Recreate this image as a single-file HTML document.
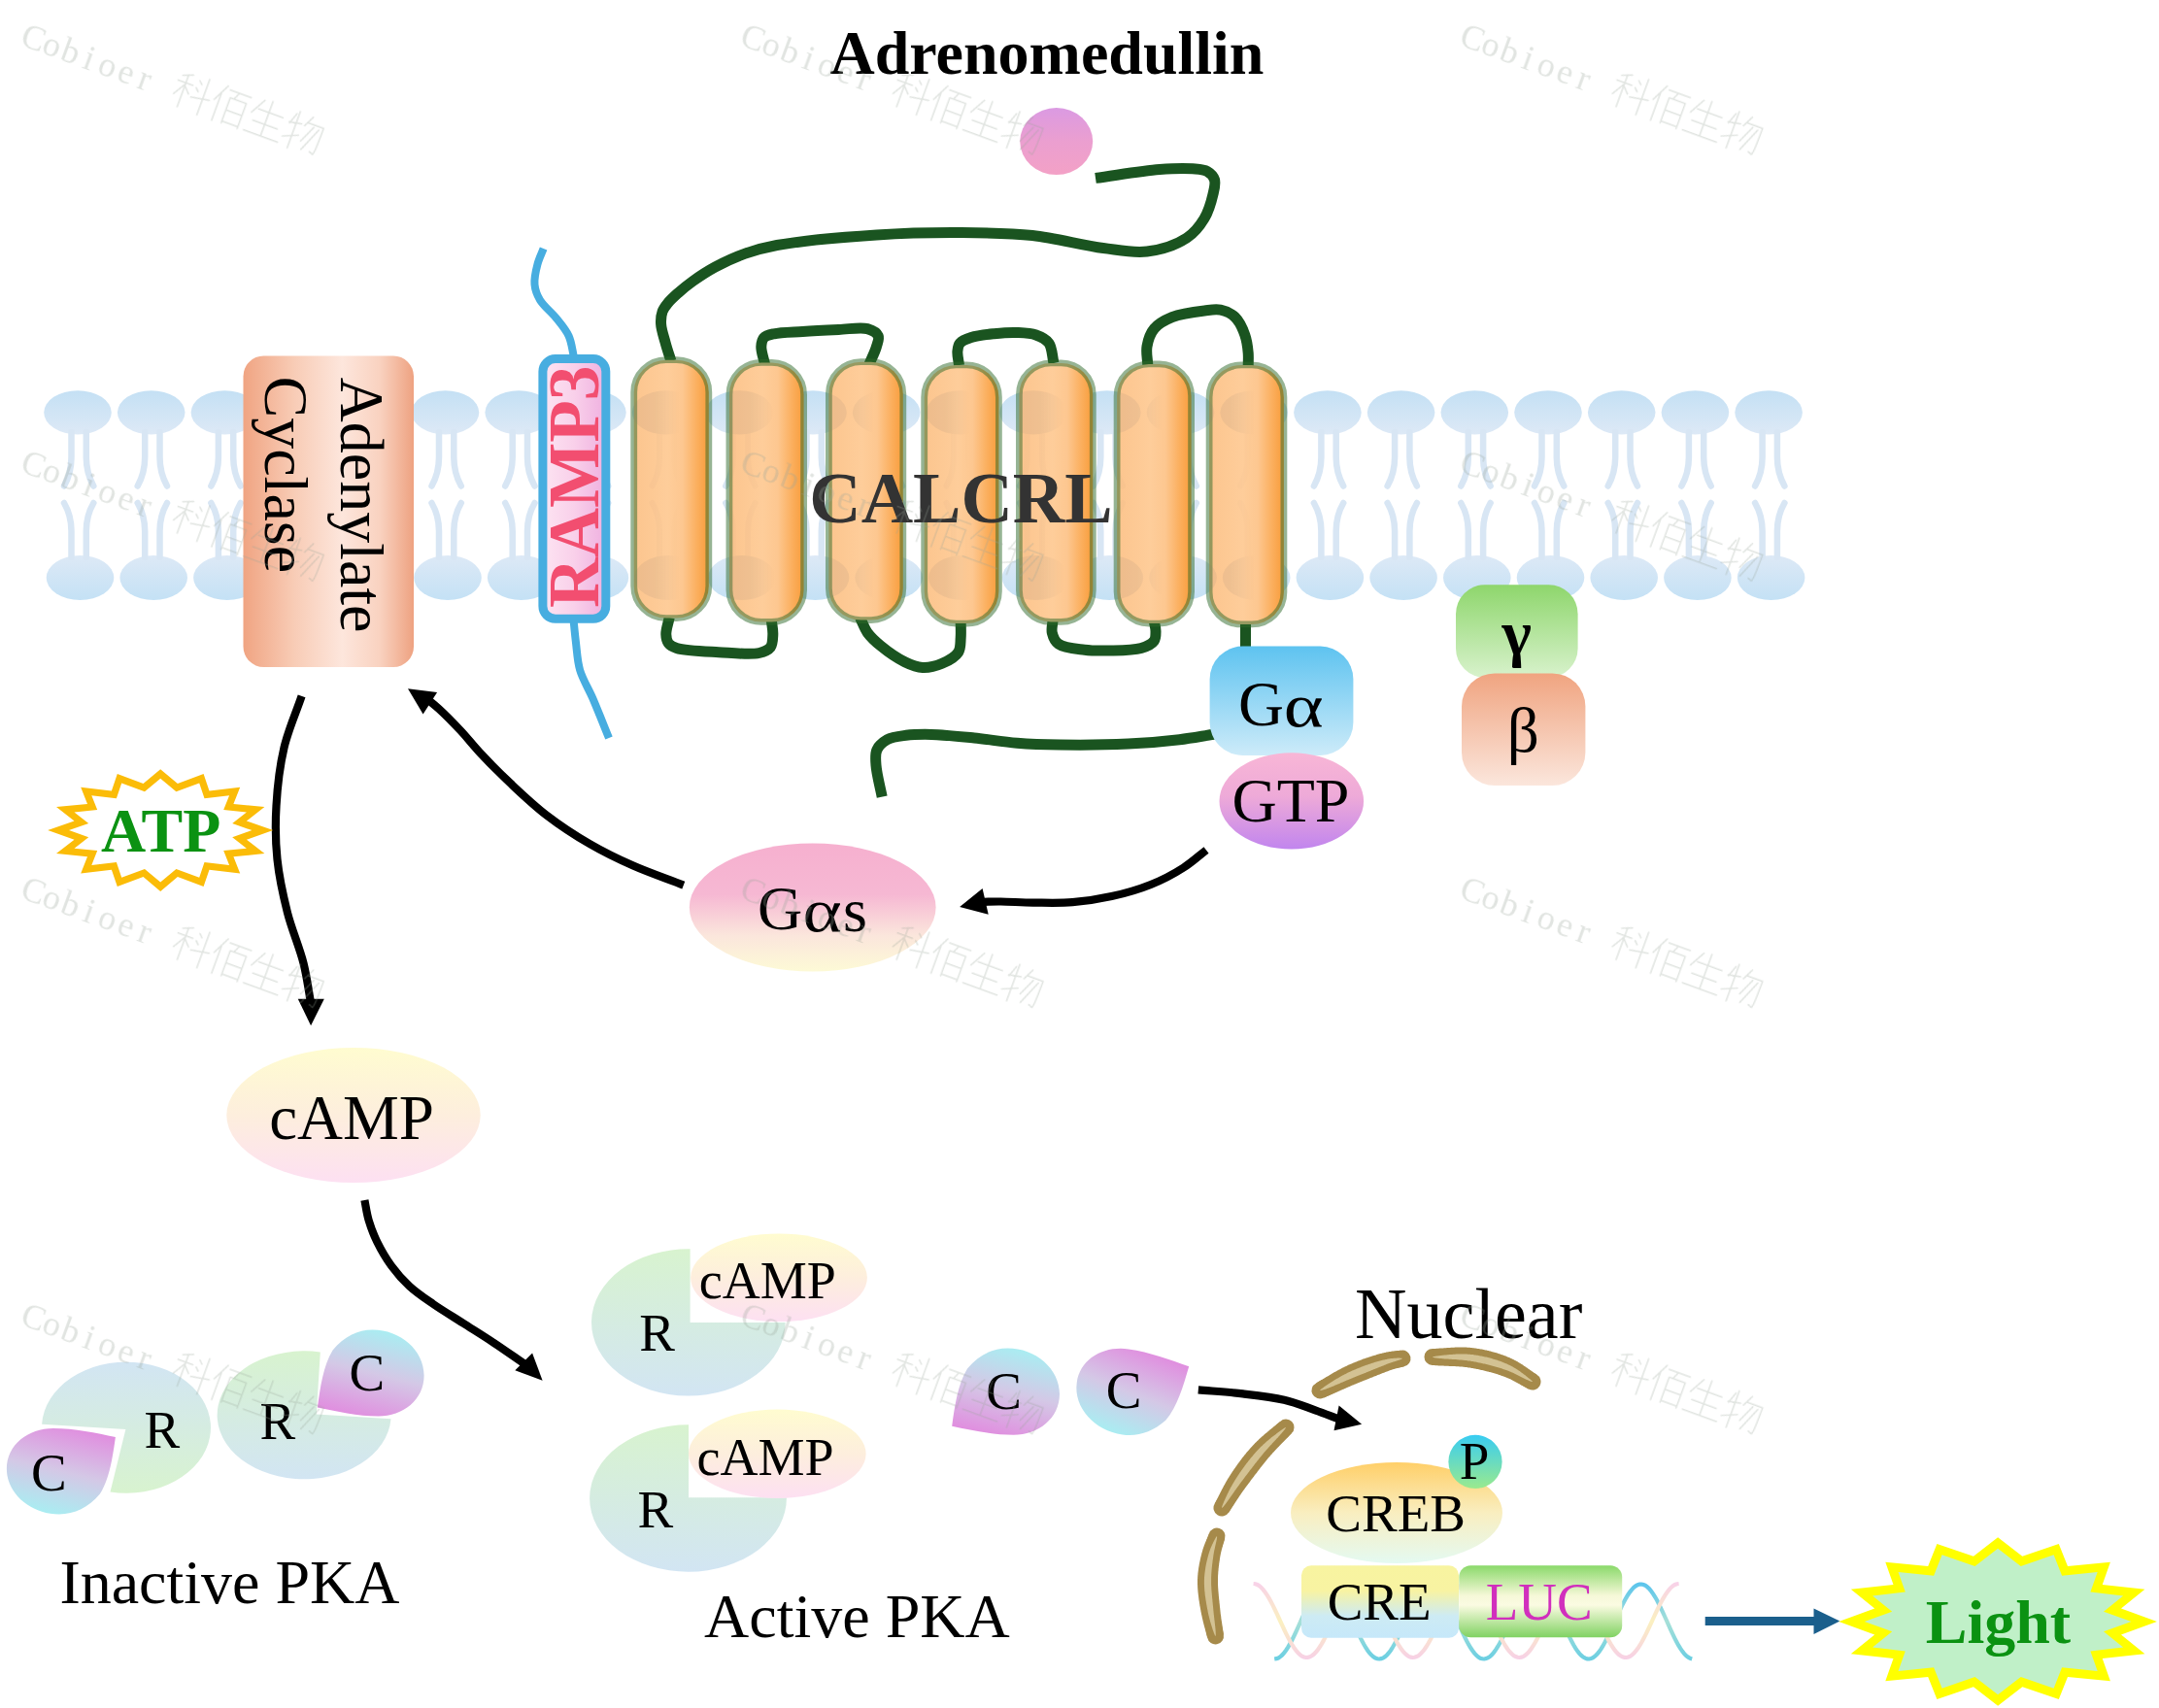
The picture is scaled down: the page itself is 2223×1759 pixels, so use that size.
<!DOCTYPE html><html><head><meta charset="utf-8"><style>html,body{margin:0;padding:0;background:#fff;}svg{display:block;font-family:"Liberation Serif",serif;}</style></head><body><svg xmlns="http://www.w3.org/2000/svg" width="2223" height="1759" viewBox="0 0 2223 1759"><defs><linearGradient id="gLipT" x1="0" y1="0" x2="0" y2="1"><stop offset="0" stop-color="#c4e0f4"/><stop offset="1" stop-color="#dde9f6"/></linearGradient><linearGradient id="gLipB" x1="0" y1="0" x2="0" y2="1"><stop offset="0" stop-color="#dde9f6"/><stop offset="1" stop-color="#c4e1f5"/></linearGradient><linearGradient id="gAC" x1="0" y1="0" x2="1" y2="0"><stop offset="0" stop-color="#f0a482"/><stop offset="0.3" stop-color="#f8ccb6"/><stop offset="0.58" stop-color="#fde6dc"/><stop offset="0.8" stop-color="#f9d2c0"/><stop offset="1" stop-color="#eea281"/></linearGradient><linearGradient id="gRamp" x1="0" y1="0" x2="1" y2="0"><stop offset="0" stop-color="#fde4f2"/><stop offset="0.5" stop-color="#f9d0ea"/><stop offset="1" stop-color="#efb0e0"/></linearGradient><linearGradient id="gHel" x1="0" y1="0" x2="1" y2="0"><stop offset="0" stop-color="#fcc58e"/><stop offset="0.45" stop-color="#fecd9a"/><stop offset="0.65" stop-color="#fdc790"/><stop offset="0.85" stop-color="#fbae5c"/><stop offset="1" stop-color="#f89c3a"/></linearGradient><linearGradient id="gLig" x1="0" y1="0" x2="0" y2="1"><stop offset="0" stop-color="#db9ae2"/><stop offset="0.5" stop-color="#eb9fd0"/><stop offset="1" stop-color="#f3a1c6"/></linearGradient><linearGradient id="gGa" x1="0" y1="0" x2="0" y2="1"><stop offset="0" stop-color="#5ec3f0"/><stop offset="1" stop-color="#cdebf9"/></linearGradient><linearGradient id="gGTP" x1="0" y1="0" x2="0" y2="1"><stop offset="0" stop-color="#f8b6d6"/><stop offset="0.45" stop-color="#eeaad8"/><stop offset="1" stop-color="#c185ee"/></linearGradient><linearGradient id="gGam" x1="0" y1="0" x2="0" y2="1"><stop offset="0" stop-color="#8ed66c"/><stop offset="1" stop-color="#d8f2cc"/></linearGradient><linearGradient id="gBet" x1="0" y1="0" x2="0" y2="1"><stop offset="0" stop-color="#f0a480"/><stop offset="1" stop-color="#fbe6dc"/></linearGradient><linearGradient id="gGas" x1="0" y1="0" x2="0" y2="1"><stop offset="0" stop-color="#f6b0cf"/><stop offset="0.4" stop-color="#f6b8d3"/><stop offset="0.72" stop-color="#fbe6dc"/><stop offset="1" stop-color="#fdfad6"/></linearGradient><linearGradient id="gCamp" x1="0" y1="0" x2="0" y2="1"><stop offset="0" stop-color="#fffcd0"/><stop offset="0.5" stop-color="#fdeedd"/><stop offset="1" stop-color="#fde0f2"/></linearGradient><linearGradient id="gRbg" x1="0" y1="0" x2="0" y2="1"><stop offset="0" stop-color="#d2e5f3"/><stop offset="1" stop-color="#d8f3cf"/></linearGradient><linearGradient id="gRgb" x1="0" y1="0" x2="0" y2="1"><stop offset="0" stop-color="#d8f3cf"/><stop offset="1" stop-color="#d2e5f3"/></linearGradient><linearGradient id="gCpc" x1="0.65" y1="0" x2="0.35" y2="1"><stop offset="0" stop-color="#e08edf"/><stop offset="0.5" stop-color="#d4c8e6"/><stop offset="1" stop-color="#a8eef2"/></linearGradient><linearGradient id="gCcp" x1="0.65" y1="0" x2="0.35" y2="1"><stop offset="0" stop-color="#a8eef2"/><stop offset="0.5" stop-color="#d4c8e6"/><stop offset="1" stop-color="#e08edf"/></linearGradient><linearGradient id="gCcp2" x1="0.35" y1="0" x2="0.65" y2="1"><stop offset="0" stop-color="#a8eef2"/><stop offset="0.5" stop-color="#d4c8e6"/><stop offset="1" stop-color="#e08edf"/></linearGradient><linearGradient id="gCpc2" x1="0.35" y1="0" x2="0.65" y2="1"><stop offset="0" stop-color="#e08edf"/><stop offset="0.5" stop-color="#d4c8e6"/><stop offset="1" stop-color="#a8eef2"/></linearGradient><linearGradient id="gP" x1="0" y1="0" x2="0" y2="1"><stop offset="0" stop-color="#38ccf2"/><stop offset="1" stop-color="#9aea8e"/></linearGradient><linearGradient id="gCREB" x1="0" y1="0" x2="0" y2="1"><stop offset="0" stop-color="#ffcf68"/><stop offset="0.5" stop-color="#f9eec0"/><stop offset="1" stop-color="#e4faf2"/></linearGradient><linearGradient id="gCRE" x1="0" y1="0" x2="0" y2="1"><stop offset="0" stop-color="#f8f4a0"/><stop offset="0.35" stop-color="#f8f3a2"/><stop offset="0.7" stop-color="#cdebf4"/><stop offset="1" stop-color="#c6e8fa"/></linearGradient><linearGradient id="gLUC" x1="0" y1="0" x2="0" y2="1"><stop offset="0" stop-color="#8ad96a"/><stop offset="0.42" stop-color="#f6f8d8"/><stop offset="0.55" stop-color="#fbfbe2"/><stop offset="1" stop-color="#80d262"/></linearGradient></defs><rect width="2223" height="1759" fill="#fff"/><g id="lipids"><g><ellipse cx="80" cy="424.8" rx="34.8" ry="22.6" fill="url(#gLipT)"/><ellipse cx="82.5" cy="595" rx="34.8" ry="23" fill="url(#gLipB)"/><ellipse cx="155.7" cy="424.8" rx="34.8" ry="22.6" fill="url(#gLipT)"/><ellipse cx="158.2" cy="595" rx="34.8" ry="23" fill="url(#gLipB)"/><ellipse cx="231.4" cy="424.8" rx="34.8" ry="22.6" fill="url(#gLipT)"/><ellipse cx="233.9" cy="595" rx="34.8" ry="23" fill="url(#gLipB)"/><ellipse cx="307.1" cy="424.8" rx="34.8" ry="22.6" fill="url(#gLipT)"/><ellipse cx="309.6" cy="595" rx="34.8" ry="23" fill="url(#gLipB)"/><ellipse cx="382.8" cy="424.8" rx="34.8" ry="22.6" fill="url(#gLipT)"/><ellipse cx="385.3" cy="595" rx="34.8" ry="23" fill="url(#gLipB)"/><ellipse cx="458.5" cy="424.8" rx="34.8" ry="22.6" fill="url(#gLipT)"/><ellipse cx="461" cy="595" rx="34.8" ry="23" fill="url(#gLipB)"/><ellipse cx="534.2" cy="424.8" rx="34.8" ry="22.6" fill="url(#gLipT)"/><ellipse cx="536.7" cy="595" rx="34.8" ry="23" fill="url(#gLipB)"/><ellipse cx="609.9" cy="424.8" rx="34.8" ry="22.6" fill="url(#gLipT)"/><ellipse cx="612.4" cy="595" rx="34.8" ry="23" fill="url(#gLipB)"/><ellipse cx="685.6" cy="424.8" rx="34.8" ry="22.6" fill="url(#gLipT)"/><ellipse cx="688.1" cy="595" rx="34.8" ry="23" fill="url(#gLipB)"/><ellipse cx="761.3" cy="424.8" rx="34.8" ry="22.6" fill="url(#gLipT)"/><ellipse cx="763.8" cy="595" rx="34.8" ry="23" fill="url(#gLipB)"/><ellipse cx="837" cy="424.8" rx="34.8" ry="22.6" fill="url(#gLipT)"/><ellipse cx="839.5" cy="595" rx="34.8" ry="23" fill="url(#gLipB)"/><ellipse cx="912.7" cy="424.8" rx="34.8" ry="22.6" fill="url(#gLipT)"/><ellipse cx="915.2" cy="595" rx="34.8" ry="23" fill="url(#gLipB)"/><ellipse cx="988.4" cy="424.8" rx="34.8" ry="22.6" fill="url(#gLipT)"/><ellipse cx="990.9" cy="595" rx="34.8" ry="23" fill="url(#gLipB)"/><ellipse cx="1064.1" cy="424.8" rx="34.8" ry="22.6" fill="url(#gLipT)"/><ellipse cx="1066.6" cy="595" rx="34.8" ry="23" fill="url(#gLipB)"/><ellipse cx="1139.8" cy="424.8" rx="34.8" ry="22.6" fill="url(#gLipT)"/><ellipse cx="1142.3" cy="595" rx="34.8" ry="23" fill="url(#gLipB)"/><ellipse cx="1215.5" cy="424.8" rx="34.8" ry="22.6" fill="url(#gLipT)"/><ellipse cx="1218" cy="595" rx="34.8" ry="23" fill="url(#gLipB)"/><ellipse cx="1291.2" cy="424.8" rx="34.8" ry="22.6" fill="url(#gLipT)"/><ellipse cx="1293.7" cy="595" rx="34.8" ry="23" fill="url(#gLipB)"/><ellipse cx="1366.9" cy="424.8" rx="34.8" ry="22.6" fill="url(#gLipT)"/><ellipse cx="1369.4" cy="595" rx="34.8" ry="23" fill="url(#gLipB)"/><ellipse cx="1442.6" cy="424.8" rx="34.8" ry="22.6" fill="url(#gLipT)"/><ellipse cx="1445.1" cy="595" rx="34.8" ry="23" fill="url(#gLipB)"/><ellipse cx="1518.3" cy="424.8" rx="34.8" ry="22.6" fill="url(#gLipT)"/><ellipse cx="1520.8" cy="595" rx="34.8" ry="23" fill="url(#gLipB)"/><ellipse cx="1594" cy="424.8" rx="34.8" ry="22.6" fill="url(#gLipT)"/><ellipse cx="1596.5" cy="595" rx="34.8" ry="23" fill="url(#gLipB)"/><ellipse cx="1669.7" cy="424.8" rx="34.8" ry="22.6" fill="url(#gLipT)"/><ellipse cx="1672.2" cy="595" rx="34.8" ry="23" fill="url(#gLipB)"/><ellipse cx="1745.4" cy="424.8" rx="34.8" ry="22.6" fill="url(#gLipT)"/><ellipse cx="1747.9" cy="595" rx="34.8" ry="23" fill="url(#gLipB)"/><ellipse cx="1821.1" cy="424.8" rx="34.8" ry="22.6" fill="url(#gLipT)"/><ellipse cx="1823.6" cy="595" rx="34.8" ry="23" fill="url(#gLipB)"/></g><g fill="none" stroke="#d8e6f4" stroke-width="6.5" stroke-linecap="round"><path d="M 73.5,445 L 73.5,471 Q 73.5,487 66,500.5 M 88.8,445 L 88.8,471 Q 88.8,487 96.3,500.5 M 66,518 Q 73.5,531 73.5,547 L 73.5,574 M 96.3,518 Q 88.8,531 88.8,547 L 88.8,574"/><path d="M 149.2,445 L 149.2,471 Q 149.2,487 141.7,500.5 M 164.5,445 L 164.5,471 Q 164.5,487 172,500.5 M 141.7,518 Q 149.2,531 149.2,547 L 149.2,574 M 172,518 Q 164.5,531 164.5,547 L 164.5,574"/><path d="M 224.9,445 L 224.9,471 Q 224.9,487 217.4,500.5 M 240.2,445 L 240.2,471 Q 240.2,487 247.7,500.5 M 217.4,518 Q 224.9,531 224.9,547 L 224.9,574 M 247.7,518 Q 240.2,531 240.2,547 L 240.2,574"/><path d="M 300.6,445 L 300.6,471 Q 300.6,487 293.1,500.5 M 315.9,445 L 315.9,471 Q 315.9,487 323.4,500.5 M 293.1,518 Q 300.6,531 300.6,547 L 300.6,574 M 323.4,518 Q 315.9,531 315.9,547 L 315.9,574"/><path d="M 376.3,445 L 376.3,471 Q 376.3,487 368.8,500.5 M 391.6,445 L 391.6,471 Q 391.6,487 399.1,500.5 M 368.8,518 Q 376.3,531 376.3,547 L 376.3,574 M 399.1,518 Q 391.6,531 391.6,547 L 391.6,574"/><path d="M 452,445 L 452,471 Q 452,487 444.5,500.5 M 467.3,445 L 467.3,471 Q 467.3,487 474.8,500.5 M 444.5,518 Q 452,531 452,547 L 452,574 M 474.8,518 Q 467.3,531 467.3,547 L 467.3,574"/><path d="M 527.7,445 L 527.7,471 Q 527.7,487 520.2,500.5 M 543,445 L 543,471 Q 543,487 550.5,500.5 M 520.2,518 Q 527.7,531 527.7,547 L 527.7,574 M 550.5,518 Q 543,531 543,547 L 543,574"/><path d="M 603.4,445 L 603.4,471 Q 603.4,487 595.9,500.5 M 618.7,445 L 618.7,471 Q 618.7,487 626.2,500.5 M 595.9,518 Q 603.4,531 603.4,547 L 603.4,574 M 626.2,518 Q 618.7,531 618.7,547 L 618.7,574"/><path d="M 679.1,445 L 679.1,471 Q 679.1,487 671.6,500.5 M 694.4,445 L 694.4,471 Q 694.4,487 701.9,500.5 M 671.6,518 Q 679.1,531 679.1,547 L 679.1,574 M 701.9,518 Q 694.4,531 694.4,547 L 694.4,574"/><path d="M 754.8,445 L 754.8,471 Q 754.8,487 747.3,500.5 M 770.1,445 L 770.1,471 Q 770.1,487 777.6,500.5 M 747.3,518 Q 754.8,531 754.8,547 L 754.8,574 M 777.6,518 Q 770.1,531 770.1,547 L 770.1,574"/><path d="M 830.5,445 L 830.5,471 Q 830.5,487 823,500.5 M 845.8,445 L 845.8,471 Q 845.8,487 853.3,500.5 M 823,518 Q 830.5,531 830.5,547 L 830.5,574 M 853.3,518 Q 845.8,531 845.8,547 L 845.8,574"/><path d="M 906.2,445 L 906.2,471 Q 906.2,487 898.7,500.5 M 921.5,445 L 921.5,471 Q 921.5,487 929,500.5 M 898.7,518 Q 906.2,531 906.2,547 L 906.2,574 M 929,518 Q 921.5,531 921.5,547 L 921.5,574"/><path d="M 981.9,445 L 981.9,471 Q 981.9,487 974.4,500.5 M 997.2,445 L 997.2,471 Q 997.2,487 1004.7,500.5 M 974.4,518 Q 981.9,531 981.9,547 L 981.9,574 M 1004.7,518 Q 997.2,531 997.2,547 L 997.2,574"/><path d="M 1057.6,445 L 1057.6,471 Q 1057.6,487 1050.1,500.5 M 1072.9,445 L 1072.9,471 Q 1072.9,487 1080.4,500.5 M 1050.1,518 Q 1057.6,531 1057.6,547 L 1057.6,574 M 1080.4,518 Q 1072.9,531 1072.9,547 L 1072.9,574"/><path d="M 1133.3,445 L 1133.3,471 Q 1133.3,487 1125.8,500.5 M 1148.6,445 L 1148.6,471 Q 1148.6,487 1156.1,500.5 M 1125.8,518 Q 1133.3,531 1133.3,547 L 1133.3,574 M 1156.1,518 Q 1148.6,531 1148.6,547 L 1148.6,574"/><path d="M 1209,445 L 1209,471 Q 1209,487 1201.5,500.5 M 1224.3,445 L 1224.3,471 Q 1224.3,487 1231.8,500.5 M 1201.5,518 Q 1209,531 1209,547 L 1209,574 M 1231.8,518 Q 1224.3,531 1224.3,547 L 1224.3,574"/><path d="M 1284.7,445 L 1284.7,471 Q 1284.7,487 1277.2,500.5 M 1300,445 L 1300,471 Q 1300,487 1307.5,500.5 M 1277.2,518 Q 1284.7,531 1284.7,547 L 1284.7,574 M 1307.5,518 Q 1300,531 1300,547 L 1300,574"/><path d="M 1360.4,445 L 1360.4,471 Q 1360.4,487 1352.9,500.5 M 1375.7,445 L 1375.7,471 Q 1375.7,487 1383.2,500.5 M 1352.9,518 Q 1360.4,531 1360.4,547 L 1360.4,574 M 1383.2,518 Q 1375.7,531 1375.7,547 L 1375.7,574"/><path d="M 1436.1,445 L 1436.1,471 Q 1436.1,487 1428.6,500.5 M 1451.4,445 L 1451.4,471 Q 1451.4,487 1458.9,500.5 M 1428.6,518 Q 1436.1,531 1436.1,547 L 1436.1,574 M 1458.9,518 Q 1451.4,531 1451.4,547 L 1451.4,574"/><path d="M 1511.8,445 L 1511.8,471 Q 1511.8,487 1504.3,500.5 M 1527.1,445 L 1527.1,471 Q 1527.1,487 1534.6,500.5 M 1504.3,518 Q 1511.8,531 1511.8,547 L 1511.8,574 M 1534.6,518 Q 1527.1,531 1527.1,547 L 1527.1,574"/><path d="M 1587.5,445 L 1587.5,471 Q 1587.5,487 1580,500.5 M 1602.8,445 L 1602.8,471 Q 1602.8,487 1610.3,500.5 M 1580,518 Q 1587.5,531 1587.5,547 L 1587.5,574 M 1610.3,518 Q 1602.8,531 1602.8,547 L 1602.8,574"/><path d="M 1663.2,445 L 1663.2,471 Q 1663.2,487 1655.7,500.5 M 1678.5,445 L 1678.5,471 Q 1678.5,487 1686,500.5 M 1655.7,518 Q 1663.2,531 1663.2,547 L 1663.2,574 M 1686,518 Q 1678.5,531 1678.5,547 L 1678.5,574"/><path d="M 1738.9,445 L 1738.9,471 Q 1738.9,487 1731.4,500.5 M 1754.2,445 L 1754.2,471 Q 1754.2,487 1761.7,500.5 M 1731.4,518 Q 1738.9,531 1738.9,547 L 1738.9,574 M 1761.7,518 Q 1754.2,531 1754.2,547 L 1754.2,574"/><path d="M 1814.6,445 L 1814.6,471 Q 1814.6,487 1807.1,500.5 M 1829.9,445 L 1829.9,471 Q 1829.9,487 1837.4,500.5 M 1807.1,518 Q 1814.6,531 1814.6,547 L 1814.6,574 M 1837.4,518 Q 1829.9,531 1829.9,547 L 1829.9,574"/></g></g><rect x="250.5" y="366.5" width="175.5" height="320.5" rx="21" fill="url(#gAC)"/><g font-family="Liberation Serif"><text transform="translate(351,388.5) rotate(90)" font-size="64" font-weight="normal" fill="#000">Adenylate</text><text transform="translate(273,387.5) rotate(90)" font-size="64" font-weight="normal" fill="#000">Cyclase</text></g><path d="M 559.6,256 C 557.6,261.3 555,266.2 553.5,272 C 551.8,278.4 549.9,286.5 550.5,293 C 551,298.8 552.9,303.8 556,309 C 559.7,315.3 567.6,321.2 572.6,327.5 C 577.4,333.5 582.5,339.3 585.6,346 C 588.7,352.8 589.2,360.7 591,368" fill="none" stroke="#47ade0" stroke-width="8"/><path d="M 590.5,638 C 591.3,646 592,653.7 593,662 C 594.1,671 594.4,680.7 597.1,690 C 600,699.9 605.9,708.9 610.5,719.6 C 615.8,732 621.5,746.5 627,760" fill="none" stroke="#47ade0" stroke-width="8"/><rect x="558.9" y="369.6" width="64.9" height="267.7" rx="13" fill="url(#gRamp)" stroke="#47ade0" stroke-width="9"/><text transform="translate(615.6,626.1) rotate(-90) scale(0.9515,1)" font-family="Liberation Serif" font-size="75" font-weight="bold" fill="#f24e70">RAMP3</text><g fill="none" stroke="#1a5420" stroke-width="11"><path d="M 691,372 C 689,365.6 686.8,359.2 685.1,352.8 C 683.4,346.5 680.9,339.5 680.6,333.7 C 680.3,329 680.8,324.5 682.1,320.8 C 683.2,317.6 685.1,315.2 687.4,312.4 C 690.2,308.9 694.1,305.4 698.1,301.8 C 702.6,297.8 707.6,293.7 713.3,289.6 C 720,284.8 727.8,279.6 736.1,275.1 C 745.4,270.1 756,265.1 766.6,261.4 C 777.3,257.6 785.7,255.1 800,252.5 C 824.7,248 869.7,244 902.6,241.9 C 932.9,239.9 962.3,239.3 990.2,239.5 C 1015.6,239.7 1038.9,239.9 1063.1,242.5 C 1087.5,245.2 1114.6,252.8 1136,255.5 C 1152.7,257.6 1166.5,260.8 1181,259 C 1195.2,257.2 1211.7,251.8 1222,245 C 1230.1,239.7 1235.5,232.5 1240,225 C 1244.5,217.5 1247.3,207.4 1249,200 C 1250.3,194.5 1251.8,189.1 1250.5,185 C 1249.4,181.5 1246.3,178.4 1243,176.5 C 1239.1,174.3 1234,174.3 1228,173.8 C 1219,173.1 1207.2,173.5 1194,174.5 C 1175.6,175.9 1150,180.4 1128,183.4"/><path d="M 787.5,375 C 786.3,369 783.6,362.1 783.8,357.1 C 784,353.5 784.6,350 786.6,347.8 C 788.8,345.5 792.4,344.8 796.8,343.8 C 804,342.1 816,342.1 826.4,341.4 C 838.1,340.6 851.8,340 863.5,339.5 C 873.9,339.1 885.8,336.5 893.1,338.6 C 898,340 902.8,342.7 904.2,346 C 905.5,349 903.6,353 902.4,357.1 C 900.9,362.4 897.5,369 895,375"/><path d="M 987.5,376 C 987,371.2 985.5,365.8 985.9,361.7 C 986.2,358.5 986.5,355.6 988.4,353.4 C 990.7,350.6 995.3,349 1000,347.5 C 1006.3,345.4 1015.6,344.5 1023.4,343.7 C 1031.2,342.9 1039.2,342.2 1046.7,342.5 C 1053.6,342.8 1060.9,342.9 1066.7,345 C 1071.8,346.8 1077,349.2 1080,353.4 C 1083.5,358.3 1083.3,367.1 1085,374"/><path d="M 1181.8,376 C 1181.5,369.6 1179.9,362.9 1181,356.7 C 1182.1,350.4 1184.4,343.3 1188.5,338.4 C 1192.8,333.2 1199.5,329.7 1206.8,326.7 C 1216,323 1231,321.1 1240.2,320 C 1246.7,319.2 1251.5,318.1 1256.8,319.2 C 1262.1,320.3 1267.8,322.8 1271.8,326.7 C 1276.3,331.1 1279.6,338.7 1281.8,345 C 1283.9,351 1284.7,357.7 1285.2,363.4 C 1285.6,368.3 1285.2,372.5 1285.2,377"/><path d="M 689.2,636 C 688.1,641.8 685.6,648.5 685.8,653.3 C 685.9,656.9 686.5,660.1 688.3,662.5 C 690.1,664.9 692.6,666.2 696.7,667.5 C 705.3,670.3 725.7,670.9 740,671.7 C 754,672.5 772.3,674.6 781.7,672.5 C 787,671.3 790.9,669.8 793.3,666.7 C 795.7,663.5 795.6,657.9 795.8,653.3 C 796,648.4 794.7,643.1 794.2,638"/><path d="M 885.5,636 C 888.1,641.2 889.9,646.9 893.3,651.7 C 896.9,656.6 901.3,660.6 906.7,665 C 913.5,670.6 923.8,677.9 931.7,681.7 C 938,684.8 943.7,687.2 950,687.5 C 956.5,687.8 963.9,685.9 970,683.3 C 976.1,680.7 983.6,676.6 986.7,671.7 C 989.4,667.5 988.8,661.9 989.2,656.7 C 989.6,651.3 989.2,645.6 989.2,640"/><path d="M 1084.2,638 C 1083.9,642.6 1082.3,647.5 1083.3,651.7 C 1084.3,655.9 1086.1,660.5 1090,663.3 C 1095.5,667.4 1107.9,668.1 1116.7,669.2 C 1125.1,670.3 1132.8,670.2 1141.7,670 C 1152,669.8 1166.6,670 1175,667.5 C 1180.7,665.8 1185.9,663.4 1188.3,660 C 1190.2,657.2 1190,653.3 1190,650 C 1190,646.7 1188.9,643.3 1188.3,640"/><path d="M 1282.5,640 C 1282.5,650.7 1282.5,661.3 1282.5,672"/><path d="M 1250,756.2 C 1238.1,758 1227.5,760.1 1214.4,761.7 C 1198.6,763.6 1180.5,765.2 1161.6,766.1 C 1139.8,767.1 1111.9,767.3 1091.2,767 C 1074.8,766.8 1061.8,766.4 1047.2,765.2 C 1032.5,764 1017.9,761.5 1003.2,760 C 988.5,758.5 972,756.7 959.2,756.4 C 949.3,756.2 940.9,756.3 932.8,757.3 C 925.8,758.2 918.6,758.8 913.4,761.7 C 908.9,764.2 904.8,767.9 902.9,772.2 C 900.9,776.6 901.6,781.9 902,788.1 C 902.6,797 906.1,809.8 908.2,820.6"/></g><g><rect x="652.7" y="370.7" width="77.1" height="265.9" rx="33.2" fill="url(#gHel)" stroke="#2d6a2a" stroke-opacity="0.5" stroke-width="6.8"/><rect x="750.9" y="373.4" width="76.7" height="267" rx="33" fill="url(#gHel)" stroke="#2d6a2a" stroke-opacity="0.5" stroke-width="6.8"/><rect x="853.4" y="372.7" width="76.4" height="265.9" rx="32.9" fill="url(#gHel)" stroke="#2d6a2a" stroke-opacity="0.5" stroke-width="6.8"/><rect x="951.7" y="375.9" width="76.7" height="266.2" rx="33" fill="url(#gHel)" stroke="#2d6a2a" stroke-opacity="0.5" stroke-width="6.8"/><rect x="1049.4" y="373.9" width="75.9" height="266.5" rx="32.6" fill="url(#gHel)" stroke="#2d6a2a" stroke-opacity="0.5" stroke-width="6.8"/><rect x="1150.1" y="374.9" width="76.5" height="267.2" rx="32.9" fill="url(#gHel)" stroke="#2d6a2a" stroke-opacity="0.5" stroke-width="6.8"/><rect x="1245.1" y="375.9" width="76.8" height="267" rx="33" fill="url(#gHel)" stroke="#2d6a2a" stroke-opacity="0.5" stroke-width="6.8"/></g><clipPath id="hclip"><rect x="652.8" y="370.8" width="76.9" height="265.7" rx="33.1"/><rect x="751" y="373.5" width="76.5" height="266.8" rx="32.9"/><rect x="853.5" y="372.8" width="76.2" height="265.7" rx="32.8"/><rect x="951.8" y="376" width="76.5" height="266" rx="32.9"/><rect x="1049.5" y="374" width="75.7" height="266.3" rx="32.6"/><rect x="1150.2" y="375" width="76.3" height="267" rx="32.8"/><rect x="1245.2" y="376" width="76.6" height="266.8" rx="32.9"/></clipPath><linearGradient id="gHm" x1="0" y1="0" x2="1" y2="0"><stop offset="0" stop-color="#fff"/><stop offset="0.3" stop-color="#fff"/><stop offset="0.6" stop-color="#000"/></linearGradient><mask id="hmask" maskUnits="userSpaceOnUse" x="0" y="0" width="2223" height="1759"><rect x="649.3" y="367.3" width="83.9" height="272.7" fill="url(#gHm)"/><rect x="747.5" y="370" width="83.5" height="273.8" fill="url(#gHm)"/><rect x="850" y="369.3" width="83.2" height="272.7" fill="url(#gHm)"/><rect x="948.3" y="372.5" width="83.5" height="273" fill="url(#gHm)"/><rect x="1046" y="370.5" width="82.7" height="273.3" fill="url(#gHm)"/><rect x="1146.7" y="371.5" width="83.3" height="274" fill="url(#gHm)"/><rect x="1241.7" y="372.5" width="83.6" height="273.8" fill="url(#gHm)"/></mask><g clip-path="url(#hclip)" mask="url(#hmask)" opacity="0.12"><g fill="#8a7f74"><ellipse cx="80" cy="424.8" rx="34.8" ry="22.6" /><ellipse cx="82.5" cy="595" rx="34.8" ry="23" /><ellipse cx="155.7" cy="424.8" rx="34.8" ry="22.6" /><ellipse cx="158.2" cy="595" rx="34.8" ry="23" /><ellipse cx="231.4" cy="424.8" rx="34.8" ry="22.6" /><ellipse cx="233.9" cy="595" rx="34.8" ry="23" /><ellipse cx="307.1" cy="424.8" rx="34.8" ry="22.6" /><ellipse cx="309.6" cy="595" rx="34.8" ry="23" /><ellipse cx="382.8" cy="424.8" rx="34.8" ry="22.6" /><ellipse cx="385.3" cy="595" rx="34.8" ry="23" /><ellipse cx="458.5" cy="424.8" rx="34.8" ry="22.6" /><ellipse cx="461" cy="595" rx="34.8" ry="23" /><ellipse cx="534.2" cy="424.8" rx="34.8" ry="22.6" /><ellipse cx="536.7" cy="595" rx="34.8" ry="23" /><ellipse cx="609.9" cy="424.8" rx="34.8" ry="22.6" /><ellipse cx="612.4" cy="595" rx="34.8" ry="23" /><ellipse cx="685.6" cy="424.8" rx="34.8" ry="22.6" /><ellipse cx="688.1" cy="595" rx="34.8" ry="23" /><ellipse cx="761.3" cy="424.8" rx="34.8" ry="22.6" /><ellipse cx="763.8" cy="595" rx="34.8" ry="23" /><ellipse cx="837" cy="424.8" rx="34.8" ry="22.6" /><ellipse cx="839.5" cy="595" rx="34.8" ry="23" /><ellipse cx="912.7" cy="424.8" rx="34.8" ry="22.6" /><ellipse cx="915.2" cy="595" rx="34.8" ry="23" /><ellipse cx="988.4" cy="424.8" rx="34.8" ry="22.6" /><ellipse cx="990.9" cy="595" rx="34.8" ry="23" /><ellipse cx="1064.1" cy="424.8" rx="34.8" ry="22.6" /><ellipse cx="1066.6" cy="595" rx="34.8" ry="23" /><ellipse cx="1139.8" cy="424.8" rx="34.8" ry="22.6" /><ellipse cx="1142.3" cy="595" rx="34.8" ry="23" /><ellipse cx="1215.5" cy="424.8" rx="34.8" ry="22.6" /><ellipse cx="1218" cy="595" rx="34.8" ry="23" /><ellipse cx="1291.2" cy="424.8" rx="34.8" ry="22.6" /><ellipse cx="1293.7" cy="595" rx="34.8" ry="23" /><ellipse cx="1366.9" cy="424.8" rx="34.8" ry="22.6" /><ellipse cx="1369.4" cy="595" rx="34.8" ry="23" /><ellipse cx="1442.6" cy="424.8" rx="34.8" ry="22.6" /><ellipse cx="1445.1" cy="595" rx="34.8" ry="23" /><ellipse cx="1518.3" cy="424.8" rx="34.8" ry="22.6" /><ellipse cx="1520.8" cy="595" rx="34.8" ry="23" /><ellipse cx="1594" cy="424.8" rx="34.8" ry="22.6" /><ellipse cx="1596.5" cy="595" rx="34.8" ry="23" /><ellipse cx="1669.7" cy="424.8" rx="34.8" ry="22.6" /><ellipse cx="1672.2" cy="595" rx="34.8" ry="23" /><ellipse cx="1745.4" cy="424.8" rx="34.8" ry="22.6" /><ellipse cx="1747.9" cy="595" rx="34.8" ry="23" /><ellipse cx="1821.1" cy="424.8" rx="34.8" ry="22.6" /><ellipse cx="1823.6" cy="595" rx="34.8" ry="23" /></g><g fill="none" stroke="#8a7f74" stroke-width="6" stroke-linecap="round" opacity="0.3"><path d="M 73.5,445 L 73.5,471 Q 73.5,487 66,500.5 M 88.8,445 L 88.8,471 Q 88.8,487 96.3,500.5 M 66,518 Q 73.5,531 73.5,547 L 73.5,574 M 96.3,518 Q 88.8,531 88.8,547 L 88.8,574"/><path d="M 149.2,445 L 149.2,471 Q 149.2,487 141.7,500.5 M 164.5,445 L 164.5,471 Q 164.5,487 172,500.5 M 141.7,518 Q 149.2,531 149.2,547 L 149.2,574 M 172,518 Q 164.5,531 164.5,547 L 164.5,574"/><path d="M 224.9,445 L 224.9,471 Q 224.9,487 217.4,500.5 M 240.2,445 L 240.2,471 Q 240.2,487 247.7,500.5 M 217.4,518 Q 224.9,531 224.9,547 L 224.9,574 M 247.7,518 Q 240.2,531 240.2,547 L 240.2,574"/><path d="M 300.6,445 L 300.6,471 Q 300.6,487 293.1,500.5 M 315.9,445 L 315.9,471 Q 315.9,487 323.4,500.5 M 293.1,518 Q 300.6,531 300.6,547 L 300.6,574 M 323.4,518 Q 315.9,531 315.9,547 L 315.9,574"/><path d="M 376.3,445 L 376.3,471 Q 376.3,487 368.8,500.5 M 391.6,445 L 391.6,471 Q 391.6,487 399.1,500.5 M 368.8,518 Q 376.3,531 376.3,547 L 376.3,574 M 399.1,518 Q 391.6,531 391.6,547 L 391.6,574"/><path d="M 452,445 L 452,471 Q 452,487 444.5,500.5 M 467.3,445 L 467.3,471 Q 467.3,487 474.8,500.5 M 444.5,518 Q 452,531 452,547 L 452,574 M 474.8,518 Q 467.3,531 467.3,547 L 467.3,574"/><path d="M 527.7,445 L 527.7,471 Q 527.7,487 520.2,500.5 M 543,445 L 543,471 Q 543,487 550.5,500.5 M 520.2,518 Q 527.7,531 527.7,547 L 527.7,574 M 550.5,518 Q 543,531 543,547 L 543,574"/><path d="M 603.4,445 L 603.4,471 Q 603.4,487 595.9,500.5 M 618.7,445 L 618.7,471 Q 618.7,487 626.2,500.5 M 595.9,518 Q 603.4,531 603.4,547 L 603.4,574 M 626.2,518 Q 618.7,531 618.7,547 L 618.7,574"/><path d="M 679.1,445 L 679.1,471 Q 679.1,487 671.6,500.5 M 694.4,445 L 694.4,471 Q 694.4,487 701.9,500.5 M 671.6,518 Q 679.1,531 679.1,547 L 679.1,574 M 701.9,518 Q 694.4,531 694.4,547 L 694.4,574"/><path d="M 754.8,445 L 754.8,471 Q 754.8,487 747.3,500.5 M 770.1,445 L 770.1,471 Q 770.1,487 777.6,500.5 M 747.3,518 Q 754.8,531 754.8,547 L 754.8,574 M 777.6,518 Q 770.1,531 770.1,547 L 770.1,574"/><path d="M 830.5,445 L 830.5,471 Q 830.5,487 823,500.5 M 845.8,445 L 845.8,471 Q 845.8,487 853.3,500.5 M 823,518 Q 830.5,531 830.5,547 L 830.5,574 M 853.3,518 Q 845.8,531 845.8,547 L 845.8,574"/><path d="M 906.2,445 L 906.2,471 Q 906.2,487 898.7,500.5 M 921.5,445 L 921.5,471 Q 921.5,487 929,500.5 M 898.7,518 Q 906.2,531 906.2,547 L 906.2,574 M 929,518 Q 921.5,531 921.5,547 L 921.5,574"/><path d="M 981.9,445 L 981.9,471 Q 981.9,487 974.4,500.5 M 997.2,445 L 997.2,471 Q 997.2,487 1004.7,500.5 M 974.4,518 Q 981.9,531 981.9,547 L 981.9,574 M 1004.7,518 Q 997.2,531 997.2,547 L 997.2,574"/><path d="M 1057.6,445 L 1057.6,471 Q 1057.6,487 1050.1,500.5 M 1072.9,445 L 1072.9,471 Q 1072.9,487 1080.4,500.5 M 1050.1,518 Q 1057.6,531 1057.6,547 L 1057.6,574 M 1080.4,518 Q 1072.9,531 1072.9,547 L 1072.9,574"/><path d="M 1133.3,445 L 1133.3,471 Q 1133.3,487 1125.8,500.5 M 1148.6,445 L 1148.6,471 Q 1148.6,487 1156.1,500.5 M 1125.8,518 Q 1133.3,531 1133.3,547 L 1133.3,574 M 1156.1,518 Q 1148.6,531 1148.6,547 L 1148.6,574"/><path d="M 1209,445 L 1209,471 Q 1209,487 1201.5,500.5 M 1224.3,445 L 1224.3,471 Q 1224.3,487 1231.8,500.5 M 1201.5,518 Q 1209,531 1209,547 L 1209,574 M 1231.8,518 Q 1224.3,531 1224.3,547 L 1224.3,574"/><path d="M 1284.7,445 L 1284.7,471 Q 1284.7,487 1277.2,500.5 M 1300,445 L 1300,471 Q 1300,487 1307.5,500.5 M 1277.2,518 Q 1284.7,531 1284.7,547 L 1284.7,574 M 1307.5,518 Q 1300,531 1300,547 L 1300,574"/><path d="M 1360.4,445 L 1360.4,471 Q 1360.4,487 1352.9,500.5 M 1375.7,445 L 1375.7,471 Q 1375.7,487 1383.2,500.5 M 1352.9,518 Q 1360.4,531 1360.4,547 L 1360.4,574 M 1383.2,518 Q 1375.7,531 1375.7,547 L 1375.7,574"/><path d="M 1436.1,445 L 1436.1,471 Q 1436.1,487 1428.6,500.5 M 1451.4,445 L 1451.4,471 Q 1451.4,487 1458.9,500.5 M 1428.6,518 Q 1436.1,531 1436.1,547 L 1436.1,574 M 1458.9,518 Q 1451.4,531 1451.4,547 L 1451.4,574"/><path d="M 1511.8,445 L 1511.8,471 Q 1511.8,487 1504.3,500.5 M 1527.1,445 L 1527.1,471 Q 1527.1,487 1534.6,500.5 M 1504.3,518 Q 1511.8,531 1511.8,547 L 1511.8,574 M 1534.6,518 Q 1527.1,531 1527.1,547 L 1527.1,574"/><path d="M 1587.5,445 L 1587.5,471 Q 1587.5,487 1580,500.5 M 1602.8,445 L 1602.8,471 Q 1602.8,487 1610.3,500.5 M 1580,518 Q 1587.5,531 1587.5,547 L 1587.5,574 M 1610.3,518 Q 1602.8,531 1602.8,547 L 1602.8,574"/><path d="M 1663.2,445 L 1663.2,471 Q 1663.2,487 1655.7,500.5 M 1678.5,445 L 1678.5,471 Q 1678.5,487 1686,500.5 M 1655.7,518 Q 1663.2,531 1663.2,547 L 1663.2,574 M 1686,518 Q 1678.5,531 1678.5,547 L 1678.5,574"/><path d="M 1738.9,445 L 1738.9,471 Q 1738.9,487 1731.4,500.5 M 1754.2,445 L 1754.2,471 Q 1754.2,487 1761.7,500.5 M 1731.4,518 Q 1738.9,531 1738.9,547 L 1738.9,574 M 1761.7,518 Q 1754.2,531 1754.2,547 L 1754.2,574"/><path d="M 1814.6,445 L 1814.6,471 Q 1814.6,487 1807.1,500.5 M 1829.9,445 L 1829.9,471 Q 1829.9,487 1837.4,500.5 M 1807.1,518 Q 1814.6,531 1814.6,547 L 1814.6,574 M 1837.4,518 Q 1829.9,531 1829.9,547 L 1829.9,574"/></g></g><g font-family="Liberation Serif"><text x="833.2" y="538.3" font-size="74" font-weight="bold" fill="#333" >CALCRL</text></g><ellipse cx="1087.7" cy="145.6" rx="37.5" ry="34.5" fill="url(#gLig)"/><rect x="1499" y="602.2" width="125.6" height="95.6" rx="30" fill="url(#gGam)"/><rect x="1505" y="693.4" width="127.4" height="115.6" rx="34" fill="url(#gBet)"/><rect x="1245.6" y="665.6" width="147.8" height="112.3" rx="34" fill="url(#gGa)"/><ellipse cx="1329.8" cy="824.9" rx="74.3" ry="49.7" fill="url(#gGTP)"/><g font-family="Liberation Serif"><text transform="translate(1277.9,747) scale(1.0,1)" x="-2.8" font-size="65" font-weight="normal" fill="#000">G</text><text transform="translate(1324.9,748) scale(1.22,1)" x="-2.5" font-size="64" font-weight="normal" fill="#000">α</text><text x="1268.5" y="845.7" font-size="64" font-weight="normal" fill="#000" >GTP</text><text transform="translate(1546.4,674.4) scale(1.0,1)" x="0.2" font-size="65" font-weight="bold" fill="#000">γ</text><text transform="translate(1555.9,773.8) scale(1.0,1)" x="-4.2" font-size="65" font-weight="normal" fill="#000">β</text></g><ellipse cx="836.7" cy="934.5" rx="126.9" ry="66.1" fill="url(#gGas)"/><g font-family="Liberation Serif"><text transform="translate(782.6,957.3) scale(1.0,1)" x="-2.5" font-size="64" font-weight="normal" fill="#000">G</text><text transform="translate(829.6,958.8) scale(1.2,1)" x="-2.5" font-size="64" font-weight="normal" fill="#000">α</text><text transform="translate(870.6,958.8) scale(1.0,1)" x="-2.5" font-size="64" font-weight="normal" fill="#000">s</text></g><path d="M 310.6,716.9 C 304.6,734.6 296.8,751.5 292.5,770 C 288,789.2 285.6,810.4 284.5,830 C 283.4,848.7 283.6,866.7 285.5,885 C 287.4,903.4 291.5,922.1 296,940 C 300.5,957.7 308.4,975.6 312.5,992 C 316.1,1006.4 317.6,1019.3 320.1,1033" fill="none" stroke="#000" stroke-width="8.2"/><path d="M 320.1,1056.2 L 306.8,1028.8 L 333.8,1028.8 Z" fill="#000"/><path d="M 703.8,911.6 C 686.5,904.9 668.4,898.9 652,891.6 C 636.4,884.7 622.1,877.8 607.5,869.3 C 592.4,860.5 576.8,850.3 563,839.7 C 549.7,829.5 537.5,817.9 526,807.1 C 515.4,797.1 505.3,787 496.3,777.4 C 488.2,768.8 481.6,760.3 474.1,752.3 C 466.8,744.5 458.3,735.9 451.9,730 C 447.4,725.9 444,723.3 440,720" fill="none" stroke="#000" stroke-width="8.2"/><path d="M 420,709.3 L 450.1,713 L 435.6,735.6 Z" fill="#000"/><path d="M 1242,875.4 C 1234.2,881.5 1227.3,888 1218.5,893.6 C 1208.6,900 1196.8,906.2 1184.9,911 C 1172.3,916.1 1158.1,920.1 1144.6,923.1 C 1131.3,926.1 1117.8,928.1 1104.3,929.2 C 1090.9,930.3 1076.8,929.7 1064,929.6 C 1052.3,929.5 1039.9,928.6 1030.4,928.5 C 1023.4,928.4 1018.1,928.7 1012,928.8" fill="none" stroke="#000" stroke-width="8.2"/><path d="M 988.1,933.9 L 1011.6,915.1 L 1017.7,941.7 Z" fill="#000"/><path d="M 375.4,1236 C 376.8,1243 377.6,1249.9 379.7,1256.9 C 381.9,1264.3 384.7,1271.6 388.3,1279 C 392.3,1287.1 397.4,1296 403,1303.6 C 408.5,1311.1 414.5,1318.1 421.5,1324.5 C 428.8,1331.3 437.3,1336.9 446.1,1343 C 455.6,1349.6 466.6,1356.1 476.8,1362.6 C 487.1,1369.2 497.1,1375.3 507.6,1382.3 C 518.8,1389.7 530.5,1398.1 542,1406" fill="none" stroke="#000" stroke-width="8.2"/><path d="M 558.6,1421.7 L 548.1,1393.4 L 530.3,1411.2 Z" fill="#000"/><path d="M 1233.8,1431.4 C 1249.1,1432.7 1264.6,1433.6 1279.6,1435.4 C 1294.1,1437.1 1309.1,1438.7 1322.2,1441.8 C 1333.8,1444.5 1344.1,1448.8 1354.2,1452.3 C 1363.3,1455.5 1371.4,1458.8 1380,1462" fill="none" stroke="#000" stroke-width="8.2"/><path d="M 1402.1,1466.8 L 1378.6,1447.6 L 1373.5,1473.3 Z" fill="#000"/><path d="M 165.2,792.3 L 182.9,807.1 L 209.6,797.1 L 215.5,814.4 L 247.2,810.7 L 240.4,827.9 L 272.4,831.1 L 253.9,845.5 L 281.2,855.1 L 253.9,864.7 L 272.4,879.1 L 240.4,882.3 L 247.2,899.5 L 215.5,895.8 L 209.6,913.1 L 182.9,903.1 L 165.2,917.9 L 147.5,903.1 L 120.8,913.1 L 114.9,895.8 L 83.2,899.5 L 90,882.3 L 58,879.1 L 76.5,864.7 L 49.2,855.1 L 76.5,845.5 L 58,831.1 L 90,827.9 L 83.2,810.7 L 114.9,814.4 L 120.8,797.1 L 147.5,807.1 Z" fill="#fbbc08"/><path d="M 165.2,801.7 L 149,815.3 L 125.2,806.4 L 119.9,822.2 L 94.3,819.2 L 100.2,834.1 L 76.5,836.5 L 91.2,848 L 71,855.1 L 91.2,862.2 L 76.5,873.7 L 100.2,876.1 L 94.3,891 L 119.9,888 L 125.2,903.8 L 149,894.9 L 165.2,908.5 L 181.4,894.9 L 205.2,903.8 L 210.5,888 L 236.1,891 L 230.2,876.1 L 253.9,873.7 L 239.2,862.2 L 259.4,855.1 L 239.2,848 L 253.9,836.5 L 230.2,834.1 L 236.1,819.2 L 210.5,822.2 L 205.2,806.4 L 181.4,815.3 Z" fill="#fff"/><g font-family="Liberation Serif"><text x="104" y="876.9" font-size="64" font-weight="bold" fill="#0b9212" >ATP</text></g><ellipse cx="364" cy="1148.5" rx="130.7" ry="69.5" fill="url(#gCamp)"/><g font-family="Liberation Serif"><text x="277.2" y="1172.8" font-size="65" font-weight="normal" fill="#000" >cAMP</text></g><path d="M 43.1,1466.7 L 129.4,1472 L 113.5,1536.5 A 87 67.5 0 1 0 43.1,1466.7 Z" fill="url(#gRbg)"/><path d="M 329.8,1392.5 L 325.8,1456.4 L 402.5,1461.2 A 89.5 66 0 1 1 329.8,1392.5 Z" fill="url(#gRgb)"/><path transform="translate(6.9,1471) scale(1.0,0.9933)" d="M 112,9 C 109,30 106,52 96,68 C 84,82 70,89 54,89 C 25,89 0,68 0,42 C 0,17 22,0 48,0 C 70,0 92,5 112,9 Z" fill="url(#gCpc)"/><path transform="translate(326.9,1369.4) scale(0.9795,1.0011) rotate(180 56 44.5)" d="M 112,9 C 109,30 106,52 96,68 C 84,82 70,89 54,89 C 25,89 0,68 0,42 C 0,17 22,0 48,0 C 70,0 92,5 112,9 Z" fill="url(#gCpc)"/><path d="M 710.6,1286.3 L 710.6,1362 L 808.6,1362 A 99.8 75.6 0 1 1 710.6,1286.3 Z" fill="url(#gRgb)"/><path d="M 709,1467.3 L 709,1542.3 L 809.9,1542.3 A 101.4 75.7 0 1 1 709,1467.3 Z" fill="url(#gRgb)"/><ellipse cx="802" cy="1315.8" rx="90.9" ry="45.3" fill="url(#gCamp)"/><ellipse cx="800.3" cy="1497.2" rx="91.3" ry="45.7" fill="url(#gCamp)"/><path transform="translate(980.2,1388.4) scale(0.9893,1.0045) rotate(180 56 44.5)" d="M 112,9 C 109,30 106,52 96,68 C 84,82 70,89 54,89 C 25,89 0,68 0,42 C 0,17 22,0 48,0 C 70,0 92,5 112,9 Z" fill="url(#gCpc)"/><g transform="rotate(8 1163 1433)"><path transform="translate(1108,1390) scale(1.0,0.9888)" d="M 112,9 C 109,30 106,52 96,68 C 84,82 70,89 54,89 C 25,89 0,68 0,42 C 0,17 22,0 48,0 C 70,0 92,5 112,9 Z" fill="url(#gCpc)"/></g><g font-family="Liberation Serif"><text x="148.5" y="1491.3" font-size="55" font-weight="normal" fill="#000" >R</text><text x="267.4" y="1482.3" font-size="55" font-weight="normal" fill="#000" >R</text><text x="32.1" y="1534.5" font-size="55" font-weight="normal" fill="#000" >C</text><text x="359.4" y="1432.3" font-size="55" font-weight="normal" fill="#000" >C</text><text x="61.4" y="1651.2" font-size="64" font-weight="normal" fill="#000" >Inactive PKA</text><text x="658.3" y="1390.9" font-size="55" font-weight="normal" fill="#000" >R</text><text x="719.7" y="1336.9" font-size="54" font-weight="normal" fill="#000" >cAMP</text><text x="656.5" y="1572.6" font-size="55" font-weight="normal" fill="#000" >R</text><text x="717.6" y="1518.6" font-size="54" font-weight="normal" fill="#000" >cAMP</text><text x="725.1" y="1686.4" font-size="64" font-weight="normal" fill="#000" >Active PKA</text><text x="1015.2" y="1451.2" font-size="55" font-weight="normal" fill="#000" >C</text><text x="1138.8" y="1449.7" font-size="55" font-weight="normal" fill="#000" >C</text></g><path d="M 1359,1432 C 1370,1426.5 1380.5,1420.5 1392,1415.6 C 1403.8,1410.5 1419.3,1404.7 1429,1402 C 1435,1400.3 1439,1400 1444,1399" fill="none" stroke="#a68a4a" stroke-width="17" stroke-linecap="round"/><path d="M 1362.8,1439.6 L 1363.7,1439.2 L 1364.5,1438.9 L 1365.4,1438.5 L 1366.3,1438.1 L 1367.1,1437.8 L 1368,1437.4 L 1368.8,1437 L 1369.7,1436.7 L 1370.5,1436.3 L 1371.4,1435.9 L 1372.2,1435.5 L 1373.1,1435.2 L 1373.9,1434.8 L 1374.8,1434.4 L 1375.6,1434.1 L 1376.4,1433.7 L 1377.3,1433.3 L 1378.1,1432.9 L 1378.9,1432.6 L 1379.8,1432.2 L 1380.6,1431.8 L 1381.4,1431.5 L 1382.2,1431.1 L 1383.1,1430.7 L 1383.9,1430.4 L 1384.7,1430 L 1385.5,1429.7 L 1386.3,1429.3 L 1387.2,1428.9 L 1388,1428.6 L 1388.8,1428.2 L 1389.6,1427.9 L 1390.4,1427.5 L 1391.2,1427.2 L 1392,1426.8 L 1392.9,1426.5 L 1393.7,1426.2 L 1394.5,1425.8 L 1395.3,1425.5 L 1396.1,1425.2 L 1397,1424.8 L 1397.9,1424.4 L 1398.8,1424.1 L 1399.7,1423.7 L 1400.6,1423.3 L 1401.5,1423 L 1402.5,1422.6 L 1403.4,1422.2 L 1404.3,1421.8 L 1405.3,1421.5 L 1406.3,1421.1 L 1407.2,1420.7 L 1408.2,1420.3 L 1409.1,1419.9 L 1410.1,1419.5 L 1411.1,1419.1 L 1412,1418.8 L 1413,1418.4 L 1413.9,1418 L 1414.9,1417.6 L 1415.8,1417.2 L 1416.8,1416.9 L 1417.7,1416.5 L 1418.6,1416.1 L 1419.6,1415.7 L 1420.5,1415.4 L 1421.4,1415 L 1422.2,1414.7 L 1423.1,1414.3 L 1424,1414 L 1424.8,1413.7 L 1425.6,1413.4 L 1426.4,1413 L 1427.2,1412.7 L 1428,1412.4 L 1428.8,1412.2 L 1429.5,1411.9 L 1430.2,1411.6 L 1430.9,1411.4 L 1431.6,1411.1 L 1432,1411 L 1432.3,1410.9 L 1432.7,1410.8 L 1433.1,1410.6 L 1433.4,1410.5 L 1433.8,1410.4 L 1434.1,1410.3 L 1434.5,1410.2 L 1434.8,1410.1 L 1435.2,1410 L 1435.5,1409.9 L 1435.8,1409.8 L 1436.1,1409.7 L 1436.5,1409.6 L 1436.8,1409.5 L 1437.1,1409.4 L 1437.4,1409.3 L 1437.8,1409.3 L 1438.1,1409.2 L 1438.4,1409.1 L 1438.8,1409 L 1439.1,1408.9 L 1439.4,1408.9 L 1439.8,1408.8 L 1440.1,1408.7 L 1440.4,1408.6 L 1440.8,1408.5 L 1441.1,1408.4 L 1441.5,1408.4 L 1441.8,1408.3 L 1442.2,1408.2 L 1442.6,1408.1 L 1442.9,1408 L 1443.3,1407.9 L 1443.7,1407.8 L 1444.1,1407.7 L 1444.5,1407.6 L 1444.9,1407.5 L 1445.3,1407.4 L 1445.6,1407.3 L 1442.4,1390.7 L 1442,1390.7 L 1441.7,1390.7 L 1441.3,1390.8 L 1441,1390.8 L 1440.6,1390.9 L 1440.3,1390.9 L 1440,1390.9 L 1439.6,1391 L 1439.3,1391 L 1439,1391 L 1438.6,1391.1 L 1438.3,1391.1 L 1437.9,1391.1 L 1437.6,1391.2 L 1437.2,1391.2 L 1436.8,1391.2 L 1436.5,1391.3 L 1436.1,1391.3 L 1435.7,1391.3 L 1435.3,1391.4 L 1435,1391.4 L 1434.6,1391.5 L 1434.2,1391.5 L 1433.8,1391.6 L 1433.4,1391.6 L 1432.9,1391.7 L 1432.5,1391.7 L 1432.1,1391.8 L 1431.7,1391.9 L 1431.2,1391.9 L 1430.8,1392 L 1430.3,1392.1 L 1429.9,1392.2 L 1429.4,1392.2 L 1428.9,1392.3 L 1428.4,1392.4 L 1427.9,1392.5 L 1427.4,1392.6 L 1426.9,1392.7 L 1426.4,1392.9 L 1425.6,1393 L 1424.8,1393.2 L 1423.9,1393.4 L 1423.1,1393.6 L 1422.2,1393.9 L 1421.3,1394.1 L 1420.4,1394.3 L 1419.5,1394.6 L 1418.6,1394.8 L 1417.6,1395.1 L 1416.7,1395.4 L 1415.7,1395.7 L 1414.7,1396 L 1413.8,1396.3 L 1412.8,1396.6 L 1411.8,1396.9 L 1410.8,1397.2 L 1409.8,1397.5 L 1408.8,1397.9 L 1407.7,1398.2 L 1406.7,1398.6 L 1405.7,1398.9 L 1404.7,1399.3 L 1403.6,1399.6 L 1402.6,1400 L 1401.6,1400.4 L 1400.6,1400.8 L 1399.6,1401.2 L 1398.5,1401.6 L 1397.5,1402 L 1396.5,1402.4 L 1395.5,1402.8 L 1394.5,1403.2 L 1393.6,1403.6 L 1392.6,1404 L 1391.6,1404.4 L 1390.7,1404.8 L 1389.7,1405.2 L 1388.8,1405.6 L 1387.9,1406 L 1387,1406.5 L 1386.1,1406.9 L 1385.2,1407.3 L 1384.3,1407.7 L 1383.4,1408.2 L 1382.6,1408.6 L 1381.7,1409 L 1380.9,1409.5 L 1380,1409.9 L 1379.1,1410.4 L 1378.3,1410.8 L 1377.5,1411.3 L 1376.6,1411.7 L 1375.8,1412.2 L 1375,1412.7 L 1374.2,1413.1 L 1373.3,1413.6 L 1372.5,1414.1 L 1371.7,1414.5 L 1370.9,1415 L 1370.1,1415.5 L 1369.3,1415.9 L 1368.5,1416.4 L 1367.7,1416.9 L 1366.9,1417.4 L 1366.1,1417.8 L 1365.3,1418.3 L 1364.6,1418.8 L 1363.8,1419.3 L 1363,1419.7 L 1362.2,1420.2 L 1361.4,1420.7 L 1360.6,1421.1 L 1359.9,1421.6 L 1359.1,1422.1 L 1358.3,1422.5 L 1357.5,1423 L 1356.8,1423.5 L 1356,1423.9 L 1355.2,1424.4 Z" fill="#a68a4a"/><path d="M 1359,1432 L 1360,1432 L 1361,1431.8 L 1361.9,1431.5 L 1362.8,1431.3 L 1363.6,1431 L 1364.5,1430.7 L 1365.4,1430.4 L 1366.3,1430.1 L 1367.1,1429.7 L 1368,1429.4 L 1368.9,1429.1 L 1369.7,1428.7 L 1370.6,1428.4 L 1371.4,1428 L 1372.3,1427.7 L 1373.1,1427.4 L 1374,1427 L 1374.8,1426.6 L 1375.7,1426.3 L 1376.5,1425.9 L 1377.4,1425.6 L 1378.2,1425.2 L 1379.1,1424.9 L 1379.9,1424.5 L 1380.7,1424.1 L 1381.6,1423.8 L 1382.4,1423.4 L 1383.3,1423.1 L 1384.1,1422.7 L 1384.9,1422.3 L 1385.8,1422 L 1386.6,1421.6 L 1387.5,1421.3 L 1388.3,1420.9 L 1389.2,1420.6 L 1390,1420.2 L 1390.8,1419.9 L 1391.7,1419.5 L 1392.5,1419.2 L 1393.4,1418.8 L 1394.3,1418.5 L 1395.2,1418.1 L 1396.1,1417.7 L 1397,1417.3 L 1398,1417 L 1398.9,1416.6 L 1399.9,1416.2 L 1400.8,1415.8 L 1401.8,1415.4 L 1402.7,1415 L 1403.7,1414.7 L 1404.7,1414.3 L 1405.7,1413.9 L 1406.7,1413.5 L 1407.6,1413.1 L 1408.6,1412.7 L 1409.6,1412.3 L 1410.6,1411.9 L 1411.5,1411.5 L 1412.5,1411.1 L 1413.5,1410.7 L 1414.4,1410.3 L 1415.4,1410 L 1416.3,1409.6 L 1417.2,1409.2 L 1418.2,1408.8 L 1419.1,1408.5 L 1420,1408.1 L 1420.9,1407.7 L 1421.7,1407.4 L 1422.6,1407 L 1423.5,1406.7 L 1424.3,1406.4 L 1425.1,1406 L 1425.9,1405.7 L 1426.7,1405.4 L 1427.5,1405.1 L 1428.2,1404.8 L 1428.9,1404.6 L 1429.6,1404.3 L 1430.1,1404.1 L 1430.5,1404 L 1430.9,1403.8 L 1431.3,1403.7 L 1431.7,1403.5 L 1432.1,1403.4 L 1432.5,1403.3 L 1432.9,1403.1 L 1433.2,1403 L 1433.6,1402.9 L 1434,1402.8 L 1434.3,1402.6 L 1434.7,1402.5 L 1435.1,1402.4 L 1435.4,1402.3 L 1435.8,1402.2 L 1436.1,1402.1 L 1436.5,1402 L 1436.8,1401.9 L 1437.2,1401.8 L 1437.5,1401.7 L 1437.8,1401.6 L 1438.2,1401.4 L 1438.5,1401.3 L 1438.9,1401.2 L 1439.2,1401.1 L 1439.5,1401 L 1439.9,1400.9 L 1440.2,1400.8 L 1440.6,1400.7 L 1440.9,1400.6 L 1441.3,1400.4 L 1441.6,1400.3 L 1441.9,1400.2 L 1442.3,1400 L 1442.6,1399.9 L 1443,1399.7 L 1443.3,1399.5 L 1443.7,1399.3 L 1444,1399 L 1444,1399 L 1443.6,1398.8 L 1443.2,1398.7 L 1442.8,1398.7 L 1442.4,1398.7 L 1442,1398.7 L 1441.7,1398.7 L 1441.3,1398.6 L 1440.9,1398.6 L 1440.6,1398.6 L 1440.2,1398.6 L 1439.9,1398.6 L 1439.5,1398.6 L 1439.1,1398.6 L 1438.8,1398.6 L 1438.4,1398.6 L 1438.1,1398.7 L 1437.7,1398.7 L 1437.4,1398.7 L 1437,1398.7 L 1436.6,1398.7 L 1436.3,1398.7 L 1435.9,1398.8 L 1435.5,1398.8 L 1435.1,1398.8 L 1434.7,1398.8 L 1434.4,1398.9 L 1434,1398.9 L 1433.6,1398.9 L 1433.2,1399 L 1432.8,1399 L 1432.4,1399.1 L 1431.9,1399.1 L 1431.5,1399.2 L 1431.1,1399.2 L 1430.6,1399.3 L 1430.2,1399.4 L 1429.8,1399.5 L 1429.3,1399.5 L 1428.8,1399.6 L 1428.4,1399.7 L 1427.6,1399.9 L 1426.8,1400 L 1426,1400.2 L 1425.2,1400.4 L 1424.3,1400.6 L 1423.5,1400.8 L 1422.6,1401 L 1421.7,1401.2 L 1420.8,1401.5 L 1419.9,1401.7 L 1418.9,1402 L 1418,1402.3 L 1417,1402.5 L 1416.1,1402.8 L 1415.1,1403.1 L 1414.1,1403.4 L 1413.1,1403.7 L 1412.1,1404 L 1411.1,1404.4 L 1410.1,1404.7 L 1409.1,1405 L 1408.1,1405.4 L 1407.1,1405.7 L 1406.1,1406.1 L 1405.1,1406.5 L 1404.1,1406.8 L 1403.1,1407.2 L 1402.1,1407.6 L 1401.1,1408 L 1400.1,1408.4 L 1399.1,1408.8 L 1398.1,1409.2 L 1397.1,1409.5 L 1396.2,1410 L 1395.2,1410.4 L 1394.3,1410.8 L 1393.3,1411.2 L 1392.4,1411.6 L 1391.5,1412 L 1390.6,1412.4 L 1389.8,1412.8 L 1388.9,1413.2 L 1388,1413.6 L 1387.2,1414 L 1386.3,1414.4 L 1385.5,1414.9 L 1384.7,1415.3 L 1383.8,1415.7 L 1383,1416.2 L 1382.2,1416.6 L 1381.4,1417.1 L 1380.5,1417.5 L 1379.7,1418 L 1378.9,1418.4 L 1378.1,1418.9 L 1377.3,1419.4 L 1376.5,1419.8 L 1375.7,1420.3 L 1374.9,1420.8 L 1374.1,1421.3 L 1373.3,1421.8 L 1372.6,1422.2 L 1371.8,1422.7 L 1371,1423.2 L 1370.2,1423.7 L 1369.4,1424.2 L 1368.7,1424.7 L 1367.9,1425.2 L 1367.1,1425.7 L 1366.4,1426.2 L 1365.6,1426.8 L 1364.8,1427.3 L 1364.1,1427.8 L 1363.3,1428.3 L 1362.6,1428.9 L 1361.8,1429.4 L 1361.1,1430 L 1360.3,1430.6 L 1359.6,1431.2 L 1359,1432 Z" fill="#d3c293"/><path d="M 1475,1397.5 C 1488.3,1397.8 1502,1396.6 1515,1398.4 C 1527.7,1400.2 1541,1403.7 1552,1408.2 C 1561.7,1412.2 1569.3,1418.1 1578,1423" fill="none" stroke="#a68a4a" stroke-width="17" stroke-linecap="round"/><path d="M 1474.8,1406 L 1475.9,1406.1 L 1476.9,1406.1 L 1477.9,1406.2 L 1479,1406.3 L 1480,1406.3 L 1481.1,1406.4 L 1482.1,1406.4 L 1483.1,1406.5 L 1484.1,1406.5 L 1485.2,1406.6 L 1486.2,1406.6 L 1487.2,1406.7 L 1488.2,1406.7 L 1489.2,1406.7 L 1490.2,1406.8 L 1491.2,1406.8 L 1492.2,1406.9 L 1493.2,1406.9 L 1494.2,1406.9 L 1495.2,1407 L 1496.2,1407 L 1497.1,1407.1 L 1498.1,1407.1 L 1499.1,1407.2 L 1500,1407.2 L 1501,1407.3 L 1501.9,1407.3 L 1502.9,1407.4 L 1503.8,1407.5 L 1504.7,1407.6 L 1505.6,1407.6 L 1506.5,1407.7 L 1507.4,1407.8 L 1508.3,1407.9 L 1509.2,1408 L 1510.1,1408.1 L 1511,1408.2 L 1511.8,1408.4 L 1512.7,1408.5 L 1513.6,1408.6 L 1514.4,1408.8 L 1515.3,1408.9 L 1516.2,1409.1 L 1517.1,1409.3 L 1518,1409.4 L 1518.9,1409.6 L 1519.8,1409.8 L 1520.7,1410 L 1521.6,1410.1 L 1522.5,1410.3 L 1523.4,1410.5 L 1524.3,1410.7 L 1525.2,1410.9 L 1526.1,1411.1 L 1527,1411.3 L 1527.9,1411.5 L 1528.8,1411.8 L 1529.7,1412 L 1530.6,1412.2 L 1531.5,1412.4 L 1532.3,1412.6 L 1533.2,1412.9 L 1534.1,1413.1 L 1535,1413.3 L 1535.8,1413.6 L 1536.7,1413.8 L 1537.6,1414.1 L 1538.4,1414.3 L 1539.3,1414.6 L 1540.1,1414.8 L 1541,1415.1 L 1541.8,1415.3 L 1542.6,1415.6 L 1543.4,1415.9 L 1544.3,1416.1 L 1545.1,1416.4 L 1545.9,1416.7 L 1546.7,1416.9 L 1547.4,1417.2 L 1548.2,1417.5 L 1548.8,1417.7 L 1549.5,1417.9 L 1550.1,1418.2 L 1550.7,1418.4 L 1551.3,1418.7 L 1551.9,1418.9 L 1552.5,1419.2 L 1553.1,1419.5 L 1553.7,1419.8 L 1554.4,1420 L 1555,1420.3 L 1555.6,1420.6 L 1556.2,1420.9 L 1556.8,1421.2 L 1557.4,1421.6 L 1558,1421.9 L 1558.6,1422.2 L 1559.3,1422.5 L 1559.9,1422.9 L 1560.5,1423.2 L 1561.1,1423.5 L 1561.8,1423.9 L 1562.4,1424.2 L 1563,1424.6 L 1563.7,1424.9 L 1564.3,1425.3 L 1564.9,1425.6 L 1565.6,1426 L 1566.2,1426.4 L 1566.9,1426.7 L 1567.6,1427.1 L 1568.2,1427.5 L 1568.9,1427.8 L 1569.6,1428.2 L 1570.3,1428.6 L 1571,1428.9 L 1571.7,1429.3 L 1572.4,1429.7 L 1573.1,1430 L 1573.8,1430.4 L 1582.2,1415.6 L 1581.6,1415.2 L 1581,1414.8 L 1580.5,1414.5 L 1579.9,1414.1 L 1579.3,1413.7 L 1578.7,1413.3 L 1578.2,1412.8 L 1577.6,1412.4 L 1577,1412 L 1576.4,1411.6 L 1575.8,1411.2 L 1575.2,1410.8 L 1574.6,1410.3 L 1574,1409.9 L 1573.4,1409.5 L 1572.8,1409 L 1572.2,1408.6 L 1571.5,1408.2 L 1570.9,1407.7 L 1570.3,1407.3 L 1569.6,1406.9 L 1569,1406.4 L 1568.3,1406 L 1567.7,1405.5 L 1567,1405.1 L 1566.3,1404.7 L 1565.6,1404.2 L 1564.9,1403.8 L 1564.2,1403.4 L 1563.5,1402.9 L 1562.8,1402.5 L 1562.1,1402.1 L 1561.3,1401.7 L 1560.6,1401.3 L 1559.8,1400.9 L 1559,1400.5 L 1558.2,1400.1 L 1557.4,1399.7 L 1556.6,1399.3 L 1555.8,1398.9 L 1554.9,1398.5 L 1554,1398.1 L 1553.1,1397.8 L 1552.2,1397.4 L 1551.3,1397 L 1550.4,1396.6 L 1549.4,1396.3 L 1548.5,1395.9 L 1547.6,1395.6 L 1546.6,1395.2 L 1545.6,1394.9 L 1544.7,1394.6 L 1543.7,1394.2 L 1542.7,1393.9 L 1541.8,1393.6 L 1540.8,1393.3 L 1539.8,1393 L 1538.8,1392.7 L 1537.8,1392.4 L 1536.8,1392.2 L 1535.8,1391.9 L 1534.8,1391.6 L 1533.8,1391.4 L 1532.8,1391.1 L 1531.8,1390.9 L 1530.8,1390.6 L 1529.7,1390.4 L 1528.7,1390.2 L 1527.7,1390 L 1526.7,1389.8 L 1525.7,1389.6 L 1524.6,1389.4 L 1523.6,1389.2 L 1522.6,1389 L 1521.6,1388.9 L 1520.5,1388.7 L 1519.5,1388.6 L 1518.5,1388.4 L 1517.5,1388.3 L 1516.4,1388.2 L 1515.4,1388 L 1514.3,1387.9 L 1513.2,1387.8 L 1512.1,1387.8 L 1511,1387.7 L 1509.9,1387.6 L 1508.8,1387.6 L 1507.7,1387.5 L 1506.7,1387.5 L 1505.6,1387.5 L 1504.5,1387.5 L 1503.5,1387.5 L 1502.4,1387.5 L 1501.3,1387.5 L 1500.3,1387.6 L 1499.2,1387.6 L 1498.2,1387.6 L 1497.2,1387.7 L 1496.1,1387.7 L 1495.1,1387.8 L 1494,1387.8 L 1493,1387.9 L 1492,1388 L 1491,1388 L 1490,1388.1 L 1488.9,1388.2 L 1487.9,1388.2 L 1486.9,1388.3 L 1485.9,1388.4 L 1484.9,1388.4 L 1483.9,1388.5 L 1482.9,1388.6 L 1482,1388.6 L 1481,1388.7 L 1480,1388.8 L 1479,1388.8 L 1478.1,1388.9 L 1477.1,1388.9 L 1476.1,1389 L 1475.2,1389 Z" fill="#a68a4a"/><path d="M 1475,1397.5 L 1476,1397.9 L 1477,1398.2 L 1478,1398.4 L 1479,1398.5 L 1480,1398.7 L 1481,1398.8 L 1482,1398.9 L 1483,1399 L 1484.1,1399.1 L 1485.1,1399.2 L 1486.1,1399.3 L 1487.1,1399.4 L 1488.1,1399.4 L 1489.1,1399.5 L 1490.1,1399.6 L 1491.1,1399.6 L 1492.1,1399.7 L 1493.1,1399.8 L 1494.2,1399.8 L 1495.2,1399.9 L 1496.2,1400 L 1497.1,1400 L 1498.1,1400.1 L 1499.1,1400.1 L 1500.1,1400.2 L 1501.1,1400.3 L 1502.1,1400.4 L 1503.1,1400.4 L 1504,1400.5 L 1505,1400.6 L 1506,1400.7 L 1507,1400.8 L 1507.9,1400.9 L 1508.9,1401 L 1509.8,1401.1 L 1510.8,1401.2 L 1511.7,1401.4 L 1512.7,1401.5 L 1513.6,1401.6 L 1514.5,1401.8 L 1515.4,1401.9 L 1516.4,1402.1 L 1517.3,1402.3 L 1518.2,1402.4 L 1519.2,1402.6 L 1520.1,1402.8 L 1521.1,1403 L 1522,1403.2 L 1522.9,1403.4 L 1523.9,1403.6 L 1524.8,1403.8 L 1525.8,1404 L 1526.7,1404.2 L 1527.6,1404.4 L 1528.6,1404.6 L 1529.5,1404.8 L 1530.4,1405.1 L 1531.4,1405.3 L 1532.3,1405.5 L 1533.2,1405.7 L 1534.1,1406 L 1535.1,1406.2 L 1536,1406.5 L 1536.9,1406.7 L 1537.8,1407 L 1538.7,1407.2 L 1539.6,1407.5 L 1540.5,1407.7 L 1541.4,1408 L 1542.3,1408.2 L 1543.2,1408.5 L 1544.1,1408.8 L 1544.9,1409.1 L 1545.8,1409.3 L 1546.7,1409.6 L 1547.5,1409.9 L 1548.4,1410.2 L 1549.2,1410.5 L 1550,1410.7 L 1550.8,1411 L 1551.5,1411.3 L 1552.2,1411.5 L 1552.9,1411.8 L 1553.6,1412.1 L 1554.3,1412.4 L 1555,1412.6 L 1555.7,1412.9 L 1556.3,1413.2 L 1557,1413.5 L 1557.7,1413.8 L 1558.4,1414.1 L 1559,1414.5 L 1559.7,1414.8 L 1560.3,1415.1 L 1561,1415.4 L 1561.7,1415.7 L 1562.3,1416.1 L 1563,1416.4 L 1563.6,1416.7 L 1564.3,1417.1 L 1564.9,1417.4 L 1565.6,1417.7 L 1566.2,1418.1 L 1566.9,1418.4 L 1567.6,1418.7 L 1568.2,1419.1 L 1568.9,1419.4 L 1569.6,1419.7 L 1570.2,1420 L 1570.9,1420.4 L 1571.6,1420.7 L 1572.2,1421 L 1572.9,1421.3 L 1573.6,1421.6 L 1574.3,1421.9 L 1575,1422.2 L 1575.7,1422.5 L 1576.4,1422.7 L 1577.2,1422.9 L 1578,1423 L 1578,1423 L 1577.5,1422.3 L 1577,1421.8 L 1576.4,1421.3 L 1575.9,1420.8 L 1575.3,1420.3 L 1574.7,1419.8 L 1574.1,1419.4 L 1573.6,1418.9 L 1573,1418.4 L 1572.4,1418 L 1571.8,1417.5 L 1571.2,1417 L 1570.7,1416.6 L 1570.1,1416.1 L 1569.5,1415.7 L 1568.9,1415.2 L 1568.3,1414.8 L 1567.7,1414.3 L 1567.1,1413.9 L 1566.5,1413.4 L 1565.9,1413 L 1565.3,1412.5 L 1564.7,1412.1 L 1564.1,1411.7 L 1563.4,1411.2 L 1562.8,1410.8 L 1562.2,1410.4 L 1561.5,1410 L 1560.9,1409.6 L 1560.2,1409.2 L 1559.5,1408.8 L 1558.9,1408.4 L 1558.2,1408 L 1557.5,1407.6 L 1556.8,1407.2 L 1556.1,1406.8 L 1555.4,1406.4 L 1554.6,1406.1 L 1553.9,1405.7 L 1553.2,1405.4 L 1552.3,1405 L 1551.5,1404.6 L 1550.6,1404.2 L 1549.8,1403.9 L 1548.9,1403.5 L 1548,1403.2 L 1547.1,1402.8 L 1546.2,1402.5 L 1545.3,1402.1 L 1544.4,1401.8 L 1543.5,1401.5 L 1542.6,1401.2 L 1541.7,1400.8 L 1540.7,1400.5 L 1539.8,1400.2 L 1538.9,1399.9 L 1537.9,1399.7 L 1537,1399.4 L 1536,1399.1 L 1535,1398.8 L 1534.1,1398.6 L 1533.1,1398.3 L 1532.1,1398.1 L 1531.2,1397.8 L 1530.2,1397.6 L 1529.2,1397.4 L 1528.2,1397.2 L 1527.3,1396.9 L 1526.3,1396.7 L 1525.3,1396.5 L 1524.3,1396.4 L 1523.3,1396.2 L 1522.3,1396 L 1521.4,1395.8 L 1520.4,1395.7 L 1519.4,1395.5 L 1518.4,1395.4 L 1517.4,1395.3 L 1516.5,1395.1 L 1515.5,1395 L 1514.5,1394.9 L 1513.4,1394.8 L 1512.4,1394.7 L 1511.4,1394.7 L 1510.4,1394.6 L 1509.4,1394.5 L 1508.3,1394.5 L 1507.3,1394.5 L 1506.3,1394.5 L 1505.3,1394.5 L 1504.3,1394.5 L 1503.3,1394.5 L 1502.2,1394.5 L 1501.2,1394.5 L 1500.2,1394.6 L 1499.2,1394.6 L 1498.2,1394.7 L 1497.2,1394.7 L 1496.1,1394.8 L 1495.1,1394.9 L 1494.1,1394.9 L 1493.1,1395 L 1492.1,1395.1 L 1491.1,1395.2 L 1490.1,1395.3 L 1489.1,1395.4 L 1488,1395.5 L 1487,1395.6 L 1486,1395.7 L 1485,1395.8 L 1484,1395.9 L 1483,1396 L 1482,1396.2 L 1481,1396.3 L 1480,1396.4 L 1479,1396.6 L 1478,1396.7 L 1477,1396.9 L 1476,1397.1 L 1475,1397.5 Z" fill="#d3c293"/><path d="M 1324,1470 C 1315.6,1478.1 1306.8,1485.3 1298.7,1494.3 C 1290.1,1503.9 1281.2,1515.9 1274.1,1526.3 C 1267.9,1535.4 1263.4,1544.1 1258,1553" fill="none" stroke="#a68a4a" stroke-width="17" stroke-linecap="round"/><path d="M 1318.1,1463.9 L 1317.5,1464.4 L 1316.8,1465 L 1316.2,1465.5 L 1315.5,1466 L 1314.9,1466.6 L 1314.2,1467.1 L 1313.5,1467.7 L 1312.9,1468.2 L 1312.2,1468.8 L 1311.5,1469.3 L 1310.9,1469.8 L 1310.2,1470.4 L 1309.5,1470.9 L 1308.9,1471.5 L 1308.2,1472 L 1307.5,1472.6 L 1306.8,1473.2 L 1306.1,1473.7 L 1305.5,1474.3 L 1304.8,1474.9 L 1304.1,1475.4 L 1303.4,1476 L 1302.7,1476.6 L 1302,1477.2 L 1301.3,1477.8 L 1300.7,1478.4 L 1300,1479 L 1299.3,1479.6 L 1298.6,1480.2 L 1297.9,1480.8 L 1297.2,1481.4 L 1296.5,1482.1 L 1295.9,1482.7 L 1295.2,1483.4 L 1294.5,1484 L 1293.8,1484.7 L 1293.1,1485.4 L 1292.4,1486.1 L 1291.8,1486.8 L 1291.1,1487.5 L 1290.4,1488.2 L 1289.7,1489 L 1289,1489.8 L 1288.3,1490.5 L 1287.6,1491.3 L 1286.9,1492.1 L 1286.2,1492.9 L 1285.5,1493.7 L 1284.8,1494.5 L 1284.1,1495.3 L 1283.4,1496.1 L 1282.8,1496.9 L 1282.1,1497.8 L 1281.4,1498.6 L 1280.7,1499.4 L 1280.1,1500.3 L 1279.4,1501.1 L 1278.8,1502 L 1278.1,1502.8 L 1277.5,1503.7 L 1276.8,1504.5 L 1276.2,1505.4 L 1275.6,1506.2 L 1274.9,1507.1 L 1274.3,1507.9 L 1273.7,1508.8 L 1273.1,1509.7 L 1272.5,1510.5 L 1271.9,1511.4 L 1271.3,1512.2 L 1270.7,1513.1 L 1270.1,1513.9 L 1269.6,1514.8 L 1269,1515.6 L 1268.4,1516.5 L 1267.9,1517.3 L 1267.4,1518.1 L 1266.8,1519 L 1266.3,1519.8 L 1265.8,1520.6 L 1265.3,1521.4 L 1264.8,1522.1 L 1264.4,1522.8 L 1263.9,1523.6 L 1263.5,1524.3 L 1263.1,1525 L 1262.6,1525.8 L 1262.2,1526.5 L 1261.8,1527.2 L 1261.4,1527.9 L 1261,1528.7 L 1260.6,1529.4 L 1260.2,1530.1 L 1259.8,1530.8 L 1259.5,1531.5 L 1259.1,1532.2 L 1258.7,1532.9 L 1258.4,1533.6 L 1258,1534.3 L 1257.6,1535 L 1257.3,1535.7 L 1256.9,1536.4 L 1256.6,1537.1 L 1256.2,1537.8 L 1255.9,1538.5 L 1255.5,1539.2 L 1255.2,1539.8 L 1254.8,1540.5 L 1254.5,1541.2 L 1254.2,1541.9 L 1253.8,1542.6 L 1253.5,1543.2 L 1253.1,1543.9 L 1252.8,1544.6 L 1252.4,1545.3 L 1252.1,1545.9 L 1251.8,1546.6 L 1251.4,1547.3 L 1251.1,1547.9 L 1250.7,1548.6 L 1265.3,1557.4 L 1265.7,1556.7 L 1266.2,1556.1 L 1266.6,1555.4 L 1267.1,1554.7 L 1267.5,1554.1 L 1267.9,1553.4 L 1268.4,1552.8 L 1268.8,1552.1 L 1269.2,1551.5 L 1269.7,1550.8 L 1270.1,1550.2 L 1270.5,1549.5 L 1270.9,1548.9 L 1271.3,1548.3 L 1271.8,1547.6 L 1272.2,1547 L 1272.6,1546.3 L 1273,1545.7 L 1273.4,1545.1 L 1273.8,1544.5 L 1274.2,1543.8 L 1274.7,1543.2 L 1275.1,1542.6 L 1275.5,1541.9 L 1275.9,1541.3 L 1276.3,1540.7 L 1276.7,1540.1 L 1277.2,1539.4 L 1277.6,1538.8 L 1278,1538.2 L 1278.4,1537.6 L 1278.9,1537 L 1279.3,1536.3 L 1279.7,1535.7 L 1280.2,1535.1 L 1280.6,1534.5 L 1281.1,1533.9 L 1281.5,1533.2 L 1282,1532.6 L 1282.4,1532 L 1283,1531.2 L 1283.5,1530.5 L 1284.1,1529.7 L 1284.7,1529 L 1285.2,1528.2 L 1285.8,1527.4 L 1286.4,1526.7 L 1287,1525.9 L 1287.6,1525.1 L 1288.1,1524.3 L 1288.7,1523.5 L 1289.3,1522.7 L 1289.9,1522 L 1290.5,1521.2 L 1291.1,1520.4 L 1291.7,1519.6 L 1292.3,1518.8 L 1292.9,1518 L 1293.6,1517.2 L 1294.2,1516.4 L 1294.8,1515.6 L 1295.4,1514.8 L 1296,1514 L 1296.6,1513.2 L 1297.2,1512.4 L 1297.8,1511.6 L 1298.5,1510.8 L 1299.1,1510.1 L 1299.7,1509.3 L 1300.3,1508.5 L 1300.9,1507.7 L 1301.5,1507 L 1302.1,1506.2 L 1302.7,1505.5 L 1303.3,1504.7 L 1303.9,1504 L 1304.5,1503.3 L 1305.1,1502.5 L 1305.7,1501.8 L 1306.3,1501.1 L 1306.8,1500.5 L 1307.4,1499.9 L 1307.9,1499.2 L 1308.5,1498.6 L 1309,1498 L 1309.6,1497.4 L 1310.1,1496.7 L 1310.7,1496.1 L 1311.3,1495.5 L 1311.8,1494.9 L 1312.4,1494.3 L 1313,1493.7 L 1313.5,1493 L 1314.1,1492.4 L 1314.7,1491.8 L 1315.3,1491.2 L 1315.9,1490.6 L 1316.5,1490 L 1317,1489.4 L 1317.6,1488.8 L 1318.2,1488.2 L 1318.8,1487.6 L 1319.4,1486.9 L 1320,1486.3 L 1320.6,1485.7 L 1321.3,1485.1 L 1321.9,1484.5 L 1322.5,1483.8 L 1323.1,1483.2 L 1323.7,1482.6 L 1324.3,1482 L 1324.9,1481.3 L 1325.6,1480.7 L 1326.2,1480.1 L 1326.8,1479.4 L 1327.4,1478.8 L 1328,1478.1 L 1328.6,1477.5 L 1329.3,1476.8 L 1329.9,1476.1 Z" fill="#a68a4a"/><path d="M 1324,1470 L 1323.1,1470.3 L 1322.3,1470.8 L 1321.6,1471.2 L 1320.8,1471.7 L 1320.1,1472.2 L 1319.4,1472.7 L 1318.7,1473.2 L 1318,1473.8 L 1317.3,1474.3 L 1316.6,1474.8 L 1315.9,1475.3 L 1315.2,1475.8 L 1314.5,1476.3 L 1313.8,1476.9 L 1313.1,1477.4 L 1312.4,1477.9 L 1311.7,1478.5 L 1311,1479 L 1310.3,1479.5 L 1309.6,1480.1 L 1308.9,1480.6 L 1308.2,1481.2 L 1307.6,1481.7 L 1306.9,1482.3 L 1306.2,1482.9 L 1305.5,1483.4 L 1304.8,1484 L 1304.2,1484.6 L 1303.5,1485.2 L 1302.8,1485.8 L 1302.2,1486.4 L 1301.5,1487 L 1300.8,1487.6 L 1300.2,1488.2 L 1299.5,1488.9 L 1298.8,1489.5 L 1298.2,1490.1 L 1297.5,1490.8 L 1296.9,1491.4 L 1296.3,1492.1 L 1295.6,1492.8 L 1294.9,1493.6 L 1294.2,1494.3 L 1293.5,1495 L 1292.8,1495.8 L 1292.2,1496.6 L 1291.5,1497.3 L 1290.8,1498.1 L 1290.1,1498.9 L 1289.5,1499.7 L 1288.8,1500.5 L 1288.1,1501.3 L 1287.5,1502.1 L 1286.8,1502.9 L 1286.2,1503.7 L 1285.5,1504.5 L 1284.9,1505.4 L 1284.2,1506.2 L 1283.6,1507 L 1283,1507.8 L 1282.3,1508.7 L 1281.7,1509.5 L 1281.1,1510.4 L 1280.5,1511.2 L 1279.9,1512 L 1279.3,1512.9 L 1278.7,1513.7 L 1278.1,1514.6 L 1277.5,1515.4 L 1276.9,1516.3 L 1276.3,1517.1 L 1275.8,1517.9 L 1275.2,1518.8 L 1274.7,1519.6 L 1274.1,1520.4 L 1273.6,1521.3 L 1273.1,1522.1 L 1272.5,1522.9 L 1272,1523.7 L 1271.5,1524.5 L 1271.1,1525.2 L 1270.6,1526 L 1270.2,1526.7 L 1269.8,1527.4 L 1269.4,1528.1 L 1269,1528.8 L 1268.6,1529.5 L 1268.2,1530.2 L 1267.8,1530.9 L 1267.4,1531.6 L 1267,1532.3 L 1266.6,1533 L 1266.3,1533.7 L 1265.9,1534.4 L 1265.6,1535.1 L 1265.2,1535.8 L 1264.9,1536.5 L 1264.5,1537.2 L 1264.2,1537.9 L 1263.8,1538.6 L 1263.5,1539.3 L 1263.2,1540 L 1262.8,1540.7 L 1262.5,1541.4 L 1262.2,1542.1 L 1261.9,1542.8 L 1261.6,1543.5 L 1261.2,1544.2 L 1260.9,1544.9 L 1260.6,1545.6 L 1260.3,1546.3 L 1260,1547 L 1259.7,1547.7 L 1259.4,1548.5 L 1259.1,1549.2 L 1258.8,1549.9 L 1258.6,1550.6 L 1258.3,1551.4 L 1258.1,1552.1 L 1258,1553 L 1258,1553 L 1258.7,1552.5 L 1259.3,1552 L 1259.8,1551.4 L 1260.3,1550.8 L 1260.8,1550.2 L 1261.3,1549.6 L 1261.8,1548.9 L 1262.3,1548.3 L 1262.7,1547.7 L 1263.2,1547.1 L 1263.6,1546.5 L 1264.1,1545.8 L 1264.5,1545.2 L 1265,1544.6 L 1265.4,1544 L 1265.9,1543.3 L 1266.3,1542.7 L 1266.7,1542.1 L 1267.2,1541.5 L 1267.6,1540.8 L 1268.1,1540.2 L 1268.5,1539.6 L 1268.9,1538.9 L 1269.4,1538.3 L 1269.8,1537.7 L 1270.3,1537 L 1270.7,1536.4 L 1271.1,1535.8 L 1271.6,1535.1 L 1272,1534.5 L 1272.5,1533.9 L 1272.9,1533.2 L 1273.4,1532.6 L 1273.9,1531.9 L 1274.3,1531.3 L 1274.8,1530.7 L 1275.3,1530 L 1275.7,1529.4 L 1276.2,1528.7 L 1276.7,1528.1 L 1277.3,1527.3 L 1277.8,1526.6 L 1278.4,1525.8 L 1279,1525 L 1279.6,1524.2 L 1280.1,1523.5 L 1280.7,1522.7 L 1281.3,1521.9 L 1281.9,1521.1 L 1282.5,1520.3 L 1283.1,1519.5 L 1283.7,1518.7 L 1284.3,1517.9 L 1285,1517.1 L 1285.6,1516.3 L 1286.2,1515.5 L 1286.8,1514.6 L 1287.4,1513.8 L 1288.1,1513 L 1288.7,1512.2 L 1289.3,1511.4 L 1289.9,1510.6 L 1290.6,1509.8 L 1291.2,1509 L 1291.8,1508.1 L 1292.4,1507.3 L 1293.1,1506.5 L 1293.7,1505.7 L 1294.3,1504.9 L 1294.9,1504.1 L 1295.6,1503.4 L 1296.2,1502.6 L 1296.8,1501.8 L 1297.4,1501 L 1298.1,1500.2 L 1298.7,1499.5 L 1299.3,1498.7 L 1299.9,1498 L 1300.5,1497.2 L 1301.1,1496.5 L 1301.7,1495.8 L 1302.3,1495.1 L 1302.9,1494.5 L 1303.4,1493.8 L 1304,1493.2 L 1304.6,1492.5 L 1305.2,1491.9 L 1305.7,1491.2 L 1306.3,1490.6 L 1306.9,1489.9 L 1307.5,1489.3 L 1308.1,1488.6 L 1308.7,1488 L 1309.3,1487.4 L 1309.8,1486.7 L 1310.4,1486.1 L 1311,1485.4 L 1311.6,1484.8 L 1312.2,1484.2 L 1312.8,1483.5 L 1313.4,1482.9 L 1314,1482.3 L 1314.6,1481.6 L 1315.2,1481 L 1315.8,1480.4 L 1316.3,1479.7 L 1316.9,1479.1 L 1317.5,1478.4 L 1318.1,1477.8 L 1318.7,1477.1 L 1319.3,1476.5 L 1319.8,1475.8 L 1320.4,1475.1 L 1321,1474.5 L 1321.5,1473.8 L 1322.1,1473.1 L 1322.6,1472.4 L 1323.2,1471.6 L 1323.6,1470.9 L 1324,1470 Z" fill="#d3c293"/><path d="M 1253,1582 C 1251.1,1588 1248.7,1593.3 1247.2,1600 C 1245.4,1608 1243.7,1617.6 1243.5,1627 C 1243.3,1637.1 1245,1648.4 1246.4,1658.4 C 1247.7,1667.7 1249.8,1676.1 1251.5,1685" fill="none" stroke="#a68a4a" stroke-width="17" stroke-linecap="round"/><path d="M 1244.9,1579.4 L 1244.7,1579.8 L 1244.6,1580.2 L 1244.4,1580.6 L 1244.3,1581 L 1244.1,1581.4 L 1243.9,1581.8 L 1243.7,1582.2 L 1243.6,1582.6 L 1243.4,1583 L 1243.2,1583.5 L 1243,1583.9 L 1242.9,1584.3 L 1242.7,1584.7 L 1242.5,1585.1 L 1242.3,1585.6 L 1242.1,1586 L 1242,1586.4 L 1241.8,1586.9 L 1241.6,1587.3 L 1241.4,1587.8 L 1241.2,1588.2 L 1241,1588.7 L 1240.8,1589.1 L 1240.7,1589.6 L 1240.5,1590.1 L 1240.3,1590.5 L 1240.1,1591 L 1239.9,1591.5 L 1239.7,1592 L 1239.6,1592.5 L 1239.4,1593 L 1239.2,1593.5 L 1239,1594.1 L 1238.9,1594.6 L 1238.7,1595.1 L 1238.5,1595.6 L 1238.3,1596.2 L 1238.2,1596.7 L 1238,1597.3 L 1237.9,1597.9 L 1237.7,1598.5 L 1237.5,1599.1 L 1237.3,1599.8 L 1237.2,1600.4 L 1237,1601.1 L 1236.8,1601.7 L 1236.7,1602.4 L 1236.5,1603.1 L 1236.3,1603.7 L 1236.2,1604.4 L 1236,1605.1 L 1235.9,1605.8 L 1235.7,1606.5 L 1235.6,1607.2 L 1235.4,1607.9 L 1235.3,1608.6 L 1235.1,1609.4 L 1235,1610.1 L 1234.8,1610.8 L 1234.7,1611.5 L 1234.6,1612.3 L 1234.5,1613 L 1234.3,1613.7 L 1234.2,1614.5 L 1234.1,1615.2 L 1234,1616 L 1233.9,1616.7 L 1233.8,1617.5 L 1233.7,1618.3 L 1233.6,1619 L 1233.5,1619.8 L 1233.4,1620.6 L 1233.4,1621.3 L 1233.3,1622.1 L 1233.2,1622.9 L 1233.2,1623.6 L 1233.1,1624.4 L 1233.1,1625.2 L 1233.1,1626 L 1233,1626.8 L 1233,1627.6 L 1233,1628.5 L 1233,1629.3 L 1233,1630.2 L 1233,1631.1 L 1233,1631.9 L 1233.1,1632.8 L 1233.1,1633.6 L 1233.1,1634.5 L 1233.2,1635.3 L 1233.2,1636.2 L 1233.3,1637.1 L 1233.4,1637.9 L 1233.4,1638.8 L 1233.5,1639.6 L 1233.6,1640.5 L 1233.7,1641.3 L 1233.8,1642.2 L 1233.9,1643 L 1234,1643.8 L 1234.1,1644.7 L 1234.2,1645.5 L 1234.3,1646.3 L 1234.4,1647.2 L 1234.5,1648 L 1234.7,1648.8 L 1234.8,1649.6 L 1234.9,1650.4 L 1235,1651.3 L 1235.2,1652.1 L 1235.3,1652.9 L 1235.4,1653.7 L 1235.6,1654.4 L 1235.7,1655.2 L 1235.9,1656 L 1236,1656.8 L 1236.1,1657.5 L 1236.3,1658.3 L 1236.4,1659.1 L 1236.5,1659.8 L 1236.7,1660.5 L 1236.8,1661.3 L 1237,1662 L 1237.1,1662.7 L 1237.3,1663.4 L 1237.4,1664.1 L 1237.6,1664.8 L 1237.7,1665.5 L 1237.9,1666.2 L 1238,1666.9 L 1238.2,1667.6 L 1238.4,1668.3 L 1238.5,1669 L 1238.7,1669.7 L 1238.9,1670.4 L 1239,1671 L 1239.2,1671.7 L 1239.4,1672.4 L 1239.5,1673.1 L 1239.7,1673.7 L 1239.9,1674.4 L 1240.1,1675 L 1240.2,1675.7 L 1240.4,1676.3 L 1240.6,1677 L 1240.8,1677.6 L 1240.9,1678.3 L 1241.1,1678.9 L 1241.3,1679.6 L 1241.5,1680.2 L 1241.6,1680.9 L 1241.8,1681.5 L 1242,1682.1 L 1242.1,1682.8 L 1242.3,1683.4 L 1242.5,1684.1 L 1242.7,1684.7 L 1242.8,1685.3 L 1243,1686 L 1243.2,1686.6 L 1259.8,1683.4 L 1259.8,1682.7 L 1259.7,1682 L 1259.6,1681.3 L 1259.5,1680.6 L 1259.4,1680 L 1259.3,1679.3 L 1259.2,1678.6 L 1259.1,1677.9 L 1259,1677.3 L 1258.9,1676.6 L 1258.8,1675.9 L 1258.7,1675.3 L 1258.6,1674.6 L 1258.5,1673.9 L 1258.4,1673.3 L 1258.3,1672.6 L 1258.2,1672 L 1258.1,1671.3 L 1258,1670.6 L 1257.9,1670 L 1257.8,1669.3 L 1257.7,1668.7 L 1257.6,1668 L 1257.5,1667.4 L 1257.4,1666.7 L 1257.3,1666.1 L 1257.3,1665.4 L 1257.2,1664.8 L 1257.1,1664.1 L 1257,1663.5 L 1256.9,1662.8 L 1256.8,1662.2 L 1256.7,1661.6 L 1256.7,1660.9 L 1256.6,1660.3 L 1256.5,1659.6 L 1256.5,1659 L 1256.4,1658.3 L 1256.3,1657.7 L 1256.3,1657 L 1256.2,1656.2 L 1256.1,1655.5 L 1256,1654.7 L 1255.9,1653.9 L 1255.9,1653.2 L 1255.8,1652.4 L 1255.7,1651.6 L 1255.6,1650.9 L 1255.5,1650.1 L 1255.5,1649.3 L 1255.4,1648.5 L 1255.3,1647.8 L 1255.2,1647 L 1255.1,1646.2 L 1255.1,1645.4 L 1255,1644.7 L 1254.9,1643.9 L 1254.8,1643.1 L 1254.8,1642.4 L 1254.7,1641.6 L 1254.6,1640.8 L 1254.6,1640.1 L 1254.5,1639.3 L 1254.4,1638.6 L 1254.4,1637.8 L 1254.3,1637.1 L 1254.3,1636.3 L 1254.2,1635.6 L 1254.2,1634.9 L 1254.1,1634.1 L 1254.1,1633.4 L 1254.1,1632.7 L 1254,1632 L 1254,1631.3 L 1254,1630.6 L 1254,1629.9 L 1254,1629.2 L 1254,1628.6 L 1254,1627.9 L 1254,1627.2 L 1254,1626.6 L 1254,1626 L 1254,1625.4 L 1254,1624.7 L 1254,1624.1 L 1254.1,1623.5 L 1254.1,1622.8 L 1254.1,1622.2 L 1254.2,1621.5 L 1254.2,1620.9 L 1254.3,1620.3 L 1254.3,1619.6 L 1254.3,1619 L 1254.4,1618.3 L 1254.5,1617.7 L 1254.5,1617 L 1254.6,1616.4 L 1254.6,1615.8 L 1254.7,1615.1 L 1254.8,1614.5 L 1254.8,1613.8 L 1254.9,1613.2 L 1255,1612.6 L 1255.1,1611.9 L 1255.2,1611.3 L 1255.2,1610.6 L 1255.3,1610 L 1255.4,1609.4 L 1255.5,1608.8 L 1255.6,1608.1 L 1255.7,1607.5 L 1255.8,1606.9 L 1255.9,1606.3 L 1255.9,1605.7 L 1256,1605.1 L 1256.1,1604.5 L 1256.2,1603.9 L 1256.3,1603.3 L 1256.4,1602.7 L 1256.5,1602.1 L 1256.6,1601.7 L 1256.7,1601.3 L 1256.8,1600.8 L 1256.8,1600.4 L 1256.9,1600 L 1257,1599.6 L 1257.1,1599.2 L 1257.2,1598.7 L 1257.3,1598.3 L 1257.4,1597.9 L 1257.5,1597.5 L 1257.6,1597.1 L 1257.7,1596.7 L 1257.8,1596.2 L 1257.9,1595.8 L 1258,1595.4 L 1258.1,1595 L 1258.3,1594.6 L 1258.4,1594.2 L 1258.5,1593.7 L 1258.6,1593.3 L 1258.7,1592.9 L 1258.9,1592.4 L 1259,1592 L 1259.1,1591.6 L 1259.2,1591.1 L 1259.4,1590.7 L 1259.5,1590.2 L 1259.6,1589.8 L 1259.8,1589.3 L 1259.9,1588.9 L 1260,1588.4 L 1260.2,1588 L 1260.3,1587.5 L 1260.4,1587 L 1260.6,1586.6 L 1260.7,1586.1 L 1260.8,1585.6 L 1261,1585.1 L 1261.1,1584.6 Z" fill="#a68a4a"/><path d="M 1253,1582 L 1252.6,1582.4 L 1252.3,1582.8 L 1252,1583.2 L 1251.8,1583.6 L 1251.6,1584 L 1251.3,1584.4 L 1251.1,1584.8 L 1250.9,1585.2 L 1250.7,1585.6 L 1250.5,1586 L 1250.2,1586.4 L 1250,1586.9 L 1249.8,1587.3 L 1249.6,1587.7 L 1249.4,1588.1 L 1249.2,1588.5 L 1249,1588.9 L 1248.8,1589.4 L 1248.6,1589.8 L 1248.4,1590.2 L 1248.2,1590.6 L 1248,1591.1 L 1247.8,1591.5 L 1247.6,1591.9 L 1247.4,1592.4 L 1247.2,1592.8 L 1247,1593.2 L 1246.8,1593.7 L 1246.7,1594.1 L 1246.5,1594.6 L 1246.3,1595.1 L 1246.1,1595.5 L 1245.9,1596 L 1245.8,1596.5 L 1245.6,1597 L 1245.4,1597.4 L 1245.3,1597.9 L 1245.1,1598.4 L 1244.9,1598.9 L 1244.8,1599.4 L 1244.6,1600.1 L 1244.4,1600.7 L 1244.2,1601.3 L 1244.1,1601.9 L 1243.9,1602.5 L 1243.7,1603.2 L 1243.6,1603.8 L 1243.4,1604.4 L 1243.2,1605.1 L 1243.1,1605.7 L 1242.9,1606.4 L 1242.7,1607.1 L 1242.6,1607.7 L 1242.4,1608.4 L 1242.3,1609.1 L 1242.1,1609.8 L 1242,1610.5 L 1241.8,1611.1 L 1241.7,1611.8 L 1241.6,1612.5 L 1241.4,1613.2 L 1241.3,1613.9 L 1241.2,1614.6 L 1241.1,1615.4 L 1241,1616.1 L 1240.9,1616.8 L 1240.8,1617.5 L 1240.7,1618.2 L 1240.6,1618.9 L 1240.5,1619.7 L 1240.4,1620.4 L 1240.3,1621.1 L 1240.3,1621.8 L 1240.2,1622.6 L 1240.1,1623.3 L 1240.1,1624 L 1240,1624.7 L 1240,1625.5 L 1240,1626.2 L 1239.9,1626.9 L 1239.9,1627.7 L 1239.9,1628.5 L 1239.9,1629.3 L 1239.9,1630.1 L 1239.9,1630.9 L 1239.9,1631.7 L 1240,1632.5 L 1240,1633.3 L 1240,1634.1 L 1240.1,1634.9 L 1240.1,1635.8 L 1240.2,1636.6 L 1240.2,1637.4 L 1240.3,1638.2 L 1240.4,1639 L 1240.5,1639.8 L 1240.6,1640.7 L 1240.6,1641.5 L 1240.7,1642.3 L 1240.8,1643.1 L 1240.9,1643.9 L 1241.1,1644.7 L 1241.2,1645.5 L 1241.3,1646.3 L 1241.4,1647.1 L 1241.5,1647.9 L 1241.7,1648.7 L 1241.8,1649.5 L 1241.9,1650.3 L 1242,1651.1 L 1242.2,1651.9 L 1242.3,1652.7 L 1242.5,1653.5 L 1242.6,1654.3 L 1242.7,1655 L 1242.9,1655.8 L 1243,1656.6 L 1243.2,1657.3 L 1243.3,1658.1 L 1243.5,1658.8 L 1243.6,1659.5 L 1243.7,1660.2 L 1243.9,1660.9 L 1244,1661.6 L 1244.2,1662.3 L 1244.3,1663 L 1244.5,1663.7 L 1244.7,1664.3 L 1244.8,1665 L 1245,1665.7 L 1245.2,1666.3 L 1245.3,1667 L 1245.5,1667.7 L 1245.7,1668.3 L 1245.9,1669 L 1246,1669.7 L 1246.2,1670.3 L 1246.4,1671 L 1246.6,1671.6 L 1246.8,1672.3 L 1247,1672.9 L 1247.2,1673.6 L 1247.4,1674.2 L 1247.6,1674.8 L 1247.8,1675.5 L 1248,1676.1 L 1248.2,1676.8 L 1248.4,1677.4 L 1248.6,1678 L 1248.8,1678.7 L 1249,1679.3 L 1249.3,1680 L 1249.5,1680.6 L 1249.7,1681.2 L 1250,1681.9 L 1250.2,1682.5 L 1250.5,1683.1 L 1250.7,1683.8 L 1251,1684.4 L 1251.5,1685 L 1251.5,1685 L 1251.7,1684.3 L 1251.8,1683.6 L 1251.8,1682.9 L 1251.8,1682.2 L 1251.7,1681.5 L 1251.7,1680.8 L 1251.7,1680.2 L 1251.6,1679.5 L 1251.6,1678.8 L 1251.5,1678.1 L 1251.5,1677.5 L 1251.4,1676.8 L 1251.3,1676.1 L 1251.3,1675.4 L 1251.2,1674.8 L 1251.1,1674.1 L 1251,1673.4 L 1251,1672.8 L 1250.9,1672.1 L 1250.8,1671.4 L 1250.7,1670.8 L 1250.7,1670.1 L 1250.6,1669.4 L 1250.5,1668.8 L 1250.4,1668.1 L 1250.3,1667.4 L 1250.3,1666.8 L 1250.2,1666.1 L 1250.1,1665.4 L 1250,1664.8 L 1250,1664.1 L 1249.9,1663.4 L 1249.8,1662.7 L 1249.7,1662.1 L 1249.7,1661.4 L 1249.6,1660.7 L 1249.5,1660 L 1249.5,1659.4 L 1249.4,1658.7 L 1249.3,1658 L 1249.3,1657.2 L 1249.2,1656.5 L 1249.1,1655.7 L 1249.1,1654.9 L 1249,1654.2 L 1248.9,1653.4 L 1248.8,1652.6 L 1248.7,1651.8 L 1248.7,1651 L 1248.6,1650.2 L 1248.5,1649.5 L 1248.4,1648.7 L 1248.4,1647.9 L 1248.3,1647.1 L 1248.2,1646.3 L 1248.1,1645.5 L 1248,1644.7 L 1248,1643.9 L 1247.9,1643.1 L 1247.8,1642.3 L 1247.8,1641.6 L 1247.7,1640.8 L 1247.6,1640 L 1247.6,1639.2 L 1247.5,1638.4 L 1247.4,1637.6 L 1247.4,1636.9 L 1247.3,1636.1 L 1247.3,1635.3 L 1247.3,1634.5 L 1247.2,1633.8 L 1247.2,1633 L 1247.1,1632.3 L 1247.1,1631.5 L 1247.1,1630.7 L 1247.1,1630 L 1247.1,1629.3 L 1247.1,1628.5 L 1247.1,1627.8 L 1247.1,1627.1 L 1247.1,1626.4 L 1247.1,1625.7 L 1247.1,1625 L 1247.1,1624.4 L 1247.1,1623.7 L 1247.2,1623 L 1247.2,1622.3 L 1247.2,1621.6 L 1247.3,1621 L 1247.3,1620.3 L 1247.4,1619.6 L 1247.4,1618.9 L 1247.5,1618.2 L 1247.5,1617.5 L 1247.6,1616.9 L 1247.6,1616.2 L 1247.7,1615.5 L 1247.8,1614.8 L 1247.8,1614.1 L 1247.9,1613.5 L 1248,1612.8 L 1248.1,1612.1 L 1248.1,1611.4 L 1248.2,1610.8 L 1248.3,1610.1 L 1248.4,1609.4 L 1248.5,1608.8 L 1248.5,1608.1 L 1248.6,1607.5 L 1248.7,1606.8 L 1248.8,1606.2 L 1248.9,1605.5 L 1249,1604.9 L 1249.1,1604.3 L 1249.2,1603.6 L 1249.2,1603 L 1249.3,1602.4 L 1249.4,1601.8 L 1249.5,1601.2 L 1249.6,1600.6 L 1249.7,1600.1 L 1249.8,1599.6 L 1249.9,1599.1 L 1249.9,1598.6 L 1250,1598.1 L 1250.1,1597.7 L 1250.2,1597.2 L 1250.3,1596.7 L 1250.4,1596.3 L 1250.5,1595.8 L 1250.6,1595.4 L 1250.7,1594.9 L 1250.8,1594.4 L 1250.9,1594 L 1251,1593.5 L 1251.1,1593.1 L 1251.2,1592.6 L 1251.3,1592.2 L 1251.4,1591.7 L 1251.5,1591.3 L 1251.6,1590.8 L 1251.7,1590.4 L 1251.8,1589.9 L 1251.9,1589.5 L 1252,1589 L 1252.1,1588.6 L 1252.2,1588.1 L 1252.3,1587.7 L 1252.4,1587.2 L 1252.5,1586.8 L 1252.6,1586.3 L 1252.7,1585.9 L 1252.8,1585.4 L 1252.9,1584.9 L 1252.9,1584.5 L 1253,1584 L 1253.1,1583.5 L 1253.1,1583 L 1253.1,1582.5 L 1253,1582 Z" fill="#d3c293"/><g font-family="Liberation Serif"><text x="1395.1" y="1378.2" font-size="74" font-weight="normal" fill="#000" >Nuclear</text></g><linearGradient id="gDc" gradientUnits="userSpaceOnUse" x1="0" y1="1631" x2="0" y2="1709"><stop offset="0" stop-color="#5cc5ec"/><stop offset="0.5" stop-color="#a6e0d8"/><stop offset="1" stop-color="#6ccfe2"/></linearGradient><linearGradient id="gDp" gradientUnits="userSpaceOnUse" x1="0" y1="1631" x2="0" y2="1709"><stop offset="0" stop-color="#f8d2e8"/><stop offset="0.5" stop-color="#fbf0c0"/><stop offset="1" stop-color="#f7d0e6"/></linearGradient><path d="M 1312.2,1708.5 L 1314.2,1708.2 L 1316.2,1707.5 L 1318.2,1706.2 L 1320.2,1704.4 L 1322.2,1702.1 L 1324.2,1699.5 L 1326.2,1696.4 L 1328.2,1692.9 L 1330.2,1689.2 L 1332.2,1685.2 L 1334.2,1681 L 1336.2,1676.6 L 1338.2,1672.1 L 1340.2,1667.6 L 1342.2,1663.2 L 1344.2,1658.8 L 1346.2,1654.6 L 1348.2,1650.6 L 1350.2,1646.9 L 1352.2,1643.5 L 1354.2,1640.4 L 1356.2,1637.7 L 1358.2,1635.5 L 1360.2,1633.8 L 1362.2,1632.5 L 1364.2,1631.7 L 1366.2,1631.5 L 1368.2,1631.8 L 1370.2,1632.6 L 1372.2,1633.9 L 1374.2,1635.7 L 1376.2,1638 L 1378.2,1640.7 L 1380.2,1643.8 L 1382.2,1647.2 L 1384.2,1651 L 1386.2,1655 L 1388.2,1659.3 L 1390.2,1663.6 L 1392.2,1668.1 L 1394.2,1672.6 L 1396.2,1677 L 1398.2,1681.4 L 1400.2,1685.6 L 1402.2,1689.6 L 1404.2,1693.3 L 1406.2,1696.7 L 1408.2,1699.7 L 1410.2,1702.4 L 1412.2,1704.6 L 1414.2,1706.3 L 1416.2,1707.6 L 1418.2,1708.3 L 1420.2,1708.5 L 1422.2,1708.2 L 1424.2,1707.4 L 1426.2,1706 L 1428.2,1704.2 L 1430.2,1701.9 L 1432.2,1699.2 L 1434.2,1696 L 1436.2,1692.6 L 1438.2,1688.8 L 1440.2,1684.8 L 1442.2,1680.5 L 1444.2,1676.1 L 1446.2,1671.7 L 1448.2,1667.2 L 1450.2,1662.8 L 1452.2,1658.4 L 1454.2,1654.2 L 1456.2,1650.2 L 1458.2,1646.5 L 1460.2,1643.1 L 1462.2,1640.1 L 1464.2,1637.5 L 1466.2,1635.3 L 1468.2,1633.6 L 1470.2,1632.4 L 1472.2,1631.7 L 1474.2,1631.5 L 1476.2,1631.8 L 1478.2,1632.7 L 1480.2,1634.1 L 1482.2,1635.9 L 1484.2,1638.2 L 1486.2,1641 L 1488.2,1644.1 L 1490.2,1647.6 L 1492.2,1651.4 L 1494.2,1655.4 L 1496.2,1659.7 L 1498.2,1664.1 L 1500.2,1668.5 L 1502.2,1673 L 1504.2,1677.5 L 1506.2,1681.8 L 1508.2,1686 L 1510.2,1690 L 1512.2,1693.7 L 1514.2,1697 L 1516.2,1700 L 1518.2,1702.6 L 1520.2,1704.8 L 1522.2,1706.5 L 1524.2,1707.7 L 1526.2,1708.3 L 1528.2,1708.5 L 1530.2,1708.1 L 1532.2,1707.2 L 1534.2,1705.9 L 1536.2,1704 L 1538.2,1701.6 L 1540.2,1698.9 L 1542.2,1695.7 L 1544.2,1692.2 L 1546.2,1688.4 L 1548.2,1684.3 L 1550.2,1680.1 L 1552.2,1675.7 L 1554.2,1671.2 L 1556.2,1666.8 L 1558.2,1662.3 L 1560.2,1658 L 1562.2,1653.8 L 1564.2,1649.9 L 1566.2,1646.2 L 1568.2,1642.8 L 1570.2,1639.8 L 1572.2,1637.3 L 1574.2,1635.1 L 1576.2,1633.5 L 1578.2,1632.3 L 1580.2,1631.6 L 1582.2,1631.5 L 1584.2,1631.9 L 1586.2,1632.8 L 1588.2,1634.2 L 1590.2,1636.1 L 1592.2,1638.5 L 1594.2,1641.3 L 1596.2,1644.5 L 1598.2,1648 L 1600.2,1651.8 L 1602.2,1655.9 L 1604.2,1660.1 L 1606.2,1664.5 L 1608.2,1669 L 1610.2,1673.5 L 1612.2,1677.9 L 1614.2,1682.2 L 1616.2,1686.4 L 1618.2,1690.3 L 1620.2,1694 L 1622.2,1697.3 L 1624.2,1700.3 L 1626.2,1702.9 L 1628.2,1705 L 1630.2,1706.6 L 1632.2,1707.7 L 1634.2,1708.4 L 1636.2,1708.5 L 1638.2,1708.1 L 1640.2,1707.1 L 1642.2,1705.7 L 1644.2,1703.8 L 1646.2,1701.4 L 1648.2,1698.6 L 1650.2,1695.4 L 1652.2,1691.8 L 1654.2,1688 L 1656.2,1683.9 L 1658.2,1679.7 L 1660.2,1675.3 L 1662.2,1670.8 L 1664.2,1666.3 L 1666.2,1661.9 L 1668.2,1657.5 L 1670.2,1653.4 L 1672.2,1649.5 L 1674.2,1645.8 L 1676.2,1642.5 L 1678.2,1639.6 L 1680.2,1637 L 1682.2,1634.9 L 1684.2,1633.3 L 1686.2,1632.2 L 1688.2,1631.6 L 1690.2,1631.5 L 1692.2,1632 L 1694.2,1632.9 L 1696.2,1634.4 L 1698.2,1636.3 L 1700.2,1638.7 L 1702.2,1641.6 L 1704.2,1644.8 L 1706.2,1648.3 L 1708.2,1652.2 L 1710.2,1656.3 L 1712.2,1660.6 L 1714.2,1665 L 1716.2,1669.4 L 1718.2,1673.9 L 1720.2,1678.3 L 1722.2,1682.7 L 1724.2,1686.8 L 1726.2,1690.7 L 1728.2,1694.4 L 1730.2,1697.7 L 1732.2,1700.6 L 1734.2,1703.1 L 1736.2,1705.2 L 1738.2,1706.7 L 1740.2,1707.8 L 1742.2,1708.4" fill="none" stroke="url(#gDc)" stroke-width="4.2"/><path d="M 1290.6,1631 L 1292.6,1631.2 L 1294.6,1632 L 1296.6,1633.2 L 1298.6,1634.9 L 1300.6,1637.1 L 1302.6,1639.7 L 1304.6,1642.6 L 1306.6,1645.9 L 1308.6,1649.5 L 1310.6,1653.4 L 1312.6,1657.5 L 1314.6,1661.7 L 1316.6,1666 L 1318.6,1670.4 L 1320.6,1674.7 L 1322.6,1679 L 1324.6,1683.1 L 1326.6,1687 L 1328.6,1690.8 L 1330.6,1694.2 L 1332.6,1697.3 L 1334.6,1700 L 1336.6,1702.3 L 1338.6,1704.2 L 1340.6,1705.6 L 1342.6,1706.5 L 1344.6,1707 L 1346.6,1706.9 L 1348.6,1706.3 L 1350.6,1705.3 L 1352.6,1703.8 L 1354.6,1701.8 L 1356.6,1699.4 L 1358.6,1696.5 L 1360.6,1693.4 L 1362.6,1689.9 L 1364.6,1686.1 L 1366.6,1682.1 L 1368.6,1677.9 L 1370.6,1673.6 L 1372.6,1669.3 L 1374.6,1664.9 L 1376.6,1660.6 L 1378.6,1656.4 L 1380.6,1652.4 L 1382.6,1648.6 L 1384.6,1645.1 L 1386.6,1641.8 L 1388.6,1639 L 1390.6,1636.5 L 1392.6,1634.5 L 1394.6,1632.9 L 1396.6,1631.8 L 1398.6,1631.1 L 1400.6,1631 L 1402.6,1631.4 L 1404.6,1632.3 L 1406.6,1633.6 L 1408.6,1635.4 L 1410.6,1637.7 L 1412.6,1640.4 L 1414.6,1643.4 L 1416.6,1646.8 L 1418.6,1650.5 L 1420.6,1654.4 L 1422.6,1658.5 L 1424.6,1662.8 L 1426.6,1667.1 L 1428.6,1671.5 L 1430.6,1675.8 L 1432.6,1680 L 1434.6,1684.1 L 1436.6,1688 L 1438.6,1691.6 L 1440.6,1695 L 1442.6,1698 L 1444.6,1700.6 L 1446.6,1702.8 L 1448.6,1704.6 L 1450.6,1705.9 L 1452.6,1706.7 L 1454.6,1707 L 1456.6,1706.8 L 1458.6,1706.1 L 1460.6,1705 L 1462.6,1703.3 L 1464.6,1701.2 L 1466.6,1698.7 L 1468.6,1695.8 L 1470.6,1692.5 L 1472.6,1688.9 L 1474.6,1685.1 L 1476.6,1681.1 L 1478.6,1676.8 L 1480.6,1672.5 L 1482.6,1668.2 L 1484.6,1663.8 L 1486.6,1659.6 L 1488.6,1655.4 L 1490.6,1651.4 L 1492.6,1647.7 L 1494.6,1644.2 L 1496.6,1641.1 L 1498.6,1638.3 L 1500.6,1636 L 1502.6,1634 L 1504.6,1632.6 L 1506.6,1631.6 L 1508.6,1631.1 L 1510.6,1631.1 L 1512.6,1631.6 L 1514.6,1632.6 L 1516.6,1634 L 1518.6,1636 L 1520.6,1638.3 L 1522.6,1641.1 L 1524.6,1644.2 L 1526.6,1647.7 L 1528.6,1651.4 L 1530.6,1655.4 L 1532.6,1659.6 L 1534.6,1663.8 L 1536.6,1668.2 L 1538.6,1672.5 L 1540.6,1676.8 L 1542.6,1681.1 L 1544.6,1685.1 L 1546.6,1688.9 L 1548.6,1692.5 L 1550.6,1695.8 L 1552.6,1698.7 L 1554.6,1701.2 L 1556.6,1703.3 L 1558.6,1705 L 1560.6,1706.1 L 1562.6,1706.8 L 1564.6,1707 L 1566.6,1706.7 L 1568.6,1705.9 L 1570.6,1704.6 L 1572.6,1702.8 L 1574.6,1700.6 L 1576.6,1698 L 1578.6,1695 L 1580.6,1691.6 L 1582.6,1688 L 1584.6,1684.1 L 1586.6,1680 L 1588.6,1675.8 L 1590.6,1671.5 L 1592.6,1667.1 L 1594.6,1662.8 L 1596.6,1658.5 L 1598.6,1654.4 L 1600.6,1650.5 L 1602.6,1646.8 L 1604.6,1643.4 L 1606.6,1640.4 L 1608.6,1637.7 L 1610.6,1635.4 L 1612.6,1633.6 L 1614.6,1632.3 L 1616.6,1631.4 L 1618.6,1631 L 1620.6,1631.1 L 1622.6,1631.8 L 1624.6,1632.9 L 1626.6,1634.5 L 1628.6,1636.5 L 1630.6,1639 L 1632.6,1641.8 L 1634.6,1645.1 L 1636.6,1648.6 L 1638.6,1652.4 L 1640.6,1656.4 L 1642.6,1660.6 L 1644.6,1664.9 L 1646.6,1669.3 L 1648.6,1673.6 L 1650.6,1677.9 L 1652.6,1682.1 L 1654.6,1686.1 L 1656.6,1689.9 L 1658.6,1693.4 L 1660.6,1696.5 L 1662.6,1699.4 L 1664.6,1701.8 L 1666.6,1703.8 L 1668.6,1705.3 L 1670.6,1706.3 L 1672.6,1706.9 L 1674.6,1707 L 1676.6,1706.5 L 1678.6,1705.6 L 1680.6,1704.2 L 1682.6,1702.3 L 1684.6,1700 L 1686.6,1697.3 L 1688.6,1694.2 L 1690.6,1690.8 L 1692.6,1687 L 1694.6,1683.1 L 1696.6,1679 L 1698.6,1674.7 L 1700.6,1670.4 L 1702.6,1666 L 1704.6,1661.7 L 1706.6,1657.5 L 1708.6,1653.4 L 1710.6,1649.5 L 1712.6,1645.9 L 1714.6,1642.6 L 1716.6,1639.7 L 1718.6,1637.1 L 1720.6,1634.9 L 1722.6,1633.2 L 1724.6,1632 L 1726.6,1631.2 L 1728.6,1631" fill="none" stroke="url(#gDp)" stroke-width="4.2"/><ellipse cx="1438" cy="1558" rx="109" ry="52" fill="url(#gCREB)"/><circle cx="1519" cy="1505.4" r="27.6" fill="url(#gP)"/><rect x="1340" y="1612.2" width="162" height="74.5" rx="10" fill="url(#gCRE)"/><rect x="1502.3" y="1612.2" width="167.9" height="74.1" rx="12" fill="url(#gLUC)"/><g font-family="Liberation Serif"><text x="1502.7" y="1523.4" font-size="55" font-weight="normal" fill="#000" >P</text><text x="1365.3" y="1576.7" font-size="55" font-weight="normal" fill="#000" >CREB</text><text x="1366.7" y="1667.8" font-size="55" font-weight="normal" fill="#000" >CRE</text><text x="1529.7" y="1667.8" font-size="55" font-weight="normal" fill="#d12fbd" >LUC</text></g><path d="M 1755.7,1669.6 L 1870,1669.6" stroke="#1b5f8c" stroke-width="9"/><path d="M 1894.4,1669.6 L 1867.5,1656.6 L 1867.5,1683 Z" fill="#1b5f8c"/><path d="M 2057.1,1583.3 L 2082.3,1602.8 L 2119.8,1589.9 L 2129,1613.1 L 2172.9,1608.7 L 2164.7,1631.9 L 2208.4,1636.8 L 2184,1656.6 L 2220.9,1670 L 2184,1683.4 L 2208.4,1703.2 L 2164.7,1708.1 L 2172.9,1731.3 L 2129,1726.9 L 2119.8,1750.1 L 2082.3,1737.2 L 2057.1,1756.7 L 2031.9,1737.2 L 1994.4,1750.1 L 1985.2,1726.9 L 1941.3,1731.3 L 1949.5,1708.1 L 1905.8,1703.2 L 1930.2,1683.4 L 1893.3,1670 L 1930.2,1656.6 L 1905.8,1636.8 L 1949.5,1631.9 L 1941.3,1608.7 L 1985.2,1613.1 L 1994.4,1589.9 L 2031.9,1602.8 Z" fill="#ffff00"/><path d="M 2057.1,1594.7 L 2033.5,1612.9 L 1999.6,1601.2 L 1991.1,1622.7 L 1954.5,1619 L 1961.8,1639.6 L 1928.1,1643.4 L 1948.2,1659.7 L 1919.7,1670 L 1948.2,1680.3 L 1928.1,1696.6 L 1961.8,1700.4 L 1954.5,1721 L 1991.1,1717.3 L 1999.6,1738.8 L 2033.5,1727.1 L 2057.1,1745.3 L 2080.7,1727.1 L 2114.6,1738.8 L 2123.1,1717.3 L 2159.7,1721 L 2152.4,1700.4 L 2186.1,1696.6 L 2166,1680.3 L 2194.5,1670 L 2166,1659.7 L 2186.1,1643.4 L 2152.4,1639.6 L 2159.7,1619 L 2123.1,1622.7 L 2114.6,1601.2 L 2080.7,1612.9 Z" fill="#c0f0c8"/><g font-family="Liberation Serif"><text x="1982.8" y="1692" font-size="64" font-weight="bold" fill="#0b9212" >Light</text></g><g font-family="Liberation Serif"><text x="854.5" y="76.4" font-size="64" font-weight="bold" fill="#000" >Adrenomedullin</text></g><defs><g id="wm"><g font-family="Liberation Serif" font-size="36" fill="#9aa69a"><text x="-1.9" y="0">C</text><text x="21.5" y="0">o</text><text x="41.8" y="0">b</text><text x="66" y="0">i</text><text x="82.4" y="0">o</text><text x="103.7" y="0">e</text><text x="126" y="0">r</text></g><path d="M 177.8,-32.5 L 167.3,-28.4 M 164.4,-22.3 L 180.7,-22.3 M 173,-30.9 L 173,4.1 M 172.6,-20.3 L 164.8,-7.3 M 173.4,-18.7 L 179.5,-12.2 M 185.9,-29.2 L 189.2,-26 M 184.7,-21.1 L 188,-17.9 M 182.7,-10.2 L 201.8,-13.4 M 194.9,-34.1 L 194.9,4.9 M 215.2,-34.1 L 206.2,-16.2 M 211.1,-24.4 L 211.1,4.9 M 218.4,-30.9 L 241.6,-30.9 M 228.2,-30 L 225.3,-23.5 M 221.3,-23.5 L 221.3,4.1 M 221.3,-23.5 L 238.7,-23.5 L 238.7,4.1 M 221.3,-10.2 L 238.7,-10.2 M 221.3,2 L 238.7,2 M 255.8,-33.3 L 246.8,-17.1 M 252.5,-22.7 L 279.3,-22.7 M 250.9,-9.7 L 277.7,-9.7 M 263.9,-34.9 L 263.9,2.4 M 245.2,2.8 L 282.6,2.8 M 291.5,-31.7 L 287.4,-20.3 M 286.6,-21.1 L 299.6,-23.5 M 293.9,-34.9 L 293.9,4.9 M 285,-4.9 L 300.4,-11.4 M 308.6,-34.1 L 302.9,-22.7 M 305.3,-26.8 L 322.4,-26.8 Q 322.4,0 320.7,2.4 L 316.7,0.8 M 312.6,-24.4 L 304.5,-6.5 M 318.3,-23.5 L 307.7,1.6 " fill="none" stroke="#9aa69a" stroke-width="1.5" stroke-linecap="round"/></g></defs><g opacity="0.3"><use href="#wm" transform="translate(21.3,46.7) rotate(20.1)"/><use href="#wm" transform="translate(762.1,46.7) rotate(20.1)"/><use href="#wm" transform="translate(1502.9,46.7) rotate(20.1)"/><use href="#wm" transform="translate(21.3,485.9) rotate(20.1)"/><use href="#wm" transform="translate(762.1,485.9) rotate(20.1)"/><use href="#wm" transform="translate(1502.9,485.9) rotate(20.1)"/><use href="#wm" transform="translate(21.3,925.1) rotate(20.1)"/><use href="#wm" transform="translate(762.1,925.1) rotate(20.1)"/><use href="#wm" transform="translate(1502.9,925.1) rotate(20.1)"/><use href="#wm" transform="translate(21.3,1364.3) rotate(20.1)"/><use href="#wm" transform="translate(762.1,1364.3) rotate(20.1)"/><use href="#wm" transform="translate(1502.9,1364.3) rotate(20.1)"/></g></svg></body></html>
